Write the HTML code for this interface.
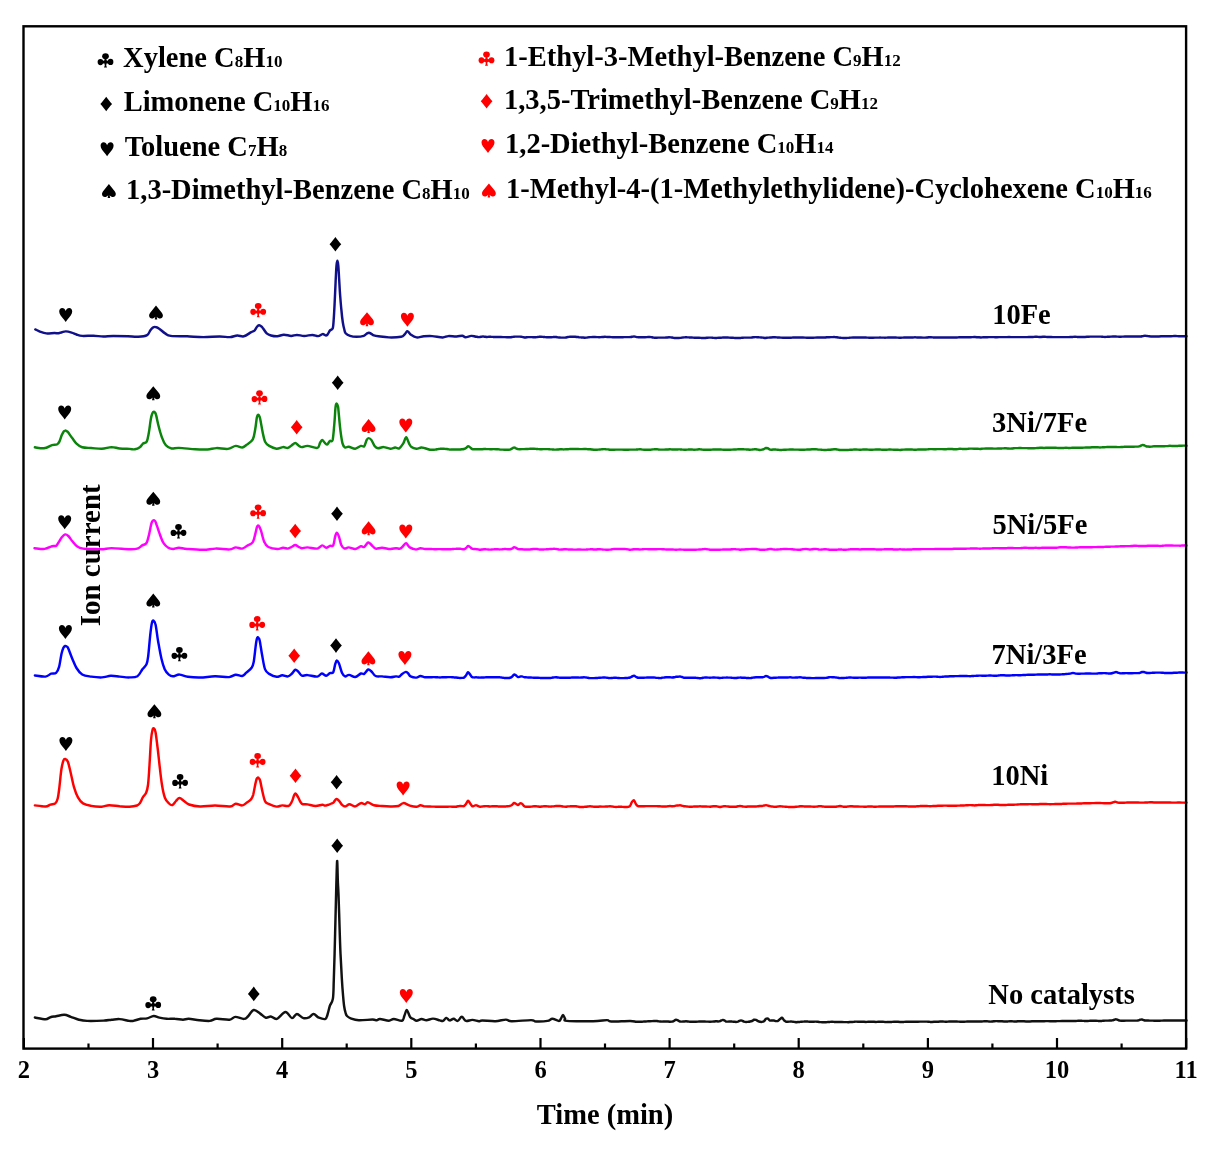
<!DOCTYPE html><html><head><meta charset="utf-8"><style>html,body{margin:0;padding:0;background:#fff;}svg{display:block;}text{font-family:"Liberation Serif","Times New Roman",serif;font-weight:bold;fill:#000;}</style></head><body>
<svg width="1226" height="1150" viewBox="0 0 1226 1150">
<rect x="0" y="0" width="1226" height="1150" fill="#fff"/>
<text transform="translate(99.9,555.3) rotate(-90)" text-anchor="middle" font-size="29">Ion current</text>
<g transform="translate(105.5,60.4) scale(1.000)" fill="#000"><ellipse cx="0" cy="-4.25" rx="3.35" ry="2.95"/><ellipse cx="-5.05" cy="1.65" rx="2.85" ry="3.1"/><ellipse cx="5.05" cy="1.55" rx="2.85" ry="3.1"/><path d="M-0.9,-2 L0.9,-2 L1.2,0.2 L3.2,0.5 L3.2,3.0 L1.0,3.2 L0.75,5.3 L1.5,7.15 L-1.5,7.15 L-0.75,5.3 L-1.0,3.2 L-3.2,3.0 L-3.2,0.5 L-1.2,0.2 Z"/></g>
<text x="123.1" y="67.4" font-size="28.5">Xylene C<tspan font-size="17">8</tspan>H<tspan font-size="17">10</tspan></text>
<path transform="translate(106.2,104.0) scale(1.000)" fill="#000" d="M0,-7.3 C1.6,-5 3.7,-2.4 5.85,0 C3.7,2.4 1.6,5 0,7.3 C-1.6,5 -3.7,2.4 -5.85,0 C-3.7,-2.4 -1.6,-5 0,-7.3 Z"/>
<text x="123.7" y="111.1" font-size="28.5">Limonene C<tspan font-size="17">10</tspan>H<tspan font-size="17">16</tspan></text>
<path transform="translate(107.1,149.2) scale(1.000)" fill="#000" d="M0,-4.0 C-0.6,-6 -1.9,-7 -3.5,-7 C-5.3,-7 -6.5,-5.6 -6.5,-3.5 C-6.5,-0.9 -4.2,1.6 -1.6,4.8 L0,7 L1.6,4.8 C4.2,1.6 6.5,-0.9 6.5,-3.5 C6.5,-5.6 5.3,-7 3.5,-7 C1.9,-7 0.6,-6 0,-4.0 Z"/>
<text x="124.7" y="156.1" font-size="28.5">Toluene C<tspan font-size="17">7</tspan>H<tspan font-size="17">8</tspan></text>
<path transform="translate(108.9,191.0) scale(1.000)" fill="#000" d="M0,-7 L5.2,-0.6 C6.4,0.9 6.9,1.9 6.9,3.1 C6.9,5 5.6,6.1 4.1,6.1 C2.8,6.1 1.6,5.4 0.7,4.3 L1.3,7 L-1.3,7 L-0.7,4.3 C-1.6,5.4 -2.8,6.1 -4.1,6.1 C-5.6,6.1 -6.9,5 -6.9,3.1 C-6.9,1.9 -6.4,0.9 -5.2,-0.6 Z"/>
<text x="126.0" y="198.7" font-size="28.5">1,3-Dimethyl-Benzene C<tspan font-size="17">8</tspan>H<tspan font-size="17">10</tspan></text>
<g transform="translate(486.5,58.7) scale(1.000)" fill="#ff0000"><ellipse cx="0" cy="-4.25" rx="3.35" ry="2.95"/><ellipse cx="-5.05" cy="1.65" rx="2.85" ry="3.1"/><ellipse cx="5.05" cy="1.55" rx="2.85" ry="3.1"/><path d="M-0.9,-2 L0.9,-2 L1.2,0.2 L3.2,0.5 L3.2,3.0 L1.0,3.2 L0.75,5.3 L1.5,7.15 L-1.5,7.15 L-0.75,5.3 L-1.0,3.2 L-3.2,3.0 L-3.2,0.5 L-1.2,0.2 Z"/></g>
<text x="504.0" y="65.8" font-size="28.5">1-Ethyl-3-Methyl-Benzene C<tspan font-size="17">9</tspan>H<tspan font-size="17">12</tspan></text>
<path transform="translate(486.6,101.2) scale(1.000)" fill="#ff0000" d="M0,-7.3 C1.6,-5 3.7,-2.4 5.85,0 C3.7,2.4 1.6,5 0,7.3 C-1.6,5 -3.7,2.4 -5.85,0 C-3.7,-2.4 -1.6,-5 0,-7.3 Z"/>
<text x="503.9" y="108.5" font-size="28.5">1,3,5-Trimethyl-Benzene C<tspan font-size="17">9</tspan>H<tspan font-size="17">12</tspan></text>
<path transform="translate(488.0,146.0) scale(1.000)" fill="#ff0000" d="M0,-4.0 C-0.6,-6 -1.9,-7 -3.5,-7 C-5.3,-7 -6.5,-5.6 -6.5,-3.5 C-6.5,-0.9 -4.2,1.6 -1.6,4.8 L0,7 L1.6,4.8 C4.2,1.6 6.5,-0.9 6.5,-3.5 C6.5,-5.6 5.3,-7 3.5,-7 C1.9,-7 0.6,-6 0,-4.0 Z"/>
<text x="505.0" y="152.8" font-size="28.5">1,2-Diethyl-Benzene C<tspan font-size="17">10</tspan>H<tspan font-size="17">14</tspan></text>
<path transform="translate(488.9,190.4) scale(1.000)" fill="#ff0000" d="M0,-7 L5.2,-0.6 C6.4,0.9 6.9,1.9 6.9,3.1 C6.9,5 5.6,6.1 4.1,6.1 C2.8,6.1 1.6,5.4 0.7,4.3 L1.3,7 L-1.3,7 L-0.7,4.3 C-1.6,5.4 -2.8,6.1 -4.1,6.1 C-5.6,6.1 -6.9,5 -6.9,3.1 C-6.9,1.9 -6.4,0.9 -5.2,-0.6 Z"/>
<text x="506.0" y="197.6" font-size="28.5">1-Methyl-4-(1-Methylethylidene)-Cyclohexene C<tspan font-size="17">10</tspan>H<tspan font-size="17">16</tspan></text>
<text x="992.2" y="324.4" font-size="28.5">10Fe</text>
<text x="992.1" y="431.9" font-size="28.5">3Ni/7Fe</text>
<text x="992.4" y="533.7" font-size="28.5">5Ni/5Fe</text>
<text x="991.6" y="664.1" font-size="28.5">7Ni/3Fe</text>
<text x="991.2" y="785.0" font-size="28.5">10Ni</text>
<text x="988.3" y="1003.7" font-size="28.5">No catalysts</text>
<path transform="translate(65.7,314.9) scale(1.000)" fill="#000" d="M0,-4.0 C-0.6,-6 -1.9,-7 -3.5,-7 C-5.3,-7 -6.5,-5.6 -6.5,-3.5 C-6.5,-0.9 -4.2,1.6 -1.6,4.8 L0,7 L1.6,4.8 C4.2,1.6 6.5,-0.9 6.5,-3.5 C6.5,-5.6 5.3,-7 3.5,-7 C1.9,-7 0.6,-6 0,-4.0 Z"/>
<path transform="translate(156.0,312.5) scale(1.000)" fill="#000" d="M0,-7 L5.2,-0.6 C6.4,0.9 6.9,1.9 6.9,3.1 C6.9,5 5.6,6.1 4.1,6.1 C2.8,6.1 1.6,5.4 0.7,4.3 L1.3,7 L-1.3,7 L-0.7,4.3 C-1.6,5.4 -2.8,6.1 -4.1,6.1 C-5.6,6.1 -6.9,5 -6.9,3.1 C-6.9,1.9 -6.4,0.9 -5.2,-0.6 Z"/>
<g transform="translate(258.2,310.2) scale(1.000)" fill="#ff0000"><ellipse cx="0" cy="-4.25" rx="3.35" ry="2.95"/><ellipse cx="-5.05" cy="1.65" rx="2.85" ry="3.1"/><ellipse cx="5.05" cy="1.55" rx="2.85" ry="3.1"/><path d="M-0.9,-2 L0.9,-2 L1.2,0.2 L3.2,0.5 L3.2,3.0 L1.0,3.2 L0.75,5.3 L1.5,7.15 L-1.5,7.15 L-0.75,5.3 L-1.0,3.2 L-3.2,3.0 L-3.2,0.5 L-1.2,0.2 Z"/></g>
<path transform="translate(335.4,244.2) scale(1.000)" fill="#000" d="M0,-7.3 C1.6,-5 3.7,-2.4 5.85,0 C3.7,2.4 1.6,5 0,7.3 C-1.6,5 -3.7,2.4 -5.85,0 C-3.7,-2.4 -1.6,-5 0,-7.3 Z"/>
<path transform="translate(367.0,319.2) scale(1.000)" fill="#ff0000" d="M0,-7 L5.2,-0.6 C6.4,0.9 6.9,1.9 6.9,3.1 C6.9,5 5.6,6.1 4.1,6.1 C2.8,6.1 1.6,5.4 0.7,4.3 L1.3,7 L-1.3,7 L-0.7,4.3 C-1.6,5.4 -2.8,6.1 -4.1,6.1 C-5.6,6.1 -6.9,5 -6.9,3.1 C-6.9,1.9 -6.4,0.9 -5.2,-0.6 Z"/>
<path transform="translate(407.4,319.8) scale(1.000)" fill="#ff0000" d="M0,-4.0 C-0.6,-6 -1.9,-7 -3.5,-7 C-5.3,-7 -6.5,-5.6 -6.5,-3.5 C-6.5,-0.9 -4.2,1.6 -1.6,4.8 L0,7 L1.6,4.8 C4.2,1.6 6.5,-0.9 6.5,-3.5 C6.5,-5.6 5.3,-7 3.5,-7 C1.9,-7 0.6,-6 0,-4.0 Z"/>
<path transform="translate(64.7,412.4) scale(1.000)" fill="#000" d="M0,-4.0 C-0.6,-6 -1.9,-7 -3.5,-7 C-5.3,-7 -6.5,-5.6 -6.5,-3.5 C-6.5,-0.9 -4.2,1.6 -1.6,4.8 L0,7 L1.6,4.8 C4.2,1.6 6.5,-0.9 6.5,-3.5 C6.5,-5.6 5.3,-7 3.5,-7 C1.9,-7 0.6,-6 0,-4.0 Z"/>
<path transform="translate(153.3,393.2) scale(1.000)" fill="#000" d="M0,-7 L5.2,-0.6 C6.4,0.9 6.9,1.9 6.9,3.1 C6.9,5 5.6,6.1 4.1,6.1 C2.8,6.1 1.6,5.4 0.7,4.3 L1.3,7 L-1.3,7 L-0.7,4.3 C-1.6,5.4 -2.8,6.1 -4.1,6.1 C-5.6,6.1 -6.9,5 -6.9,3.1 C-6.9,1.9 -6.4,0.9 -5.2,-0.6 Z"/>
<g transform="translate(259.5,397.4) scale(1.000)" fill="#ff0000"><ellipse cx="0" cy="-4.25" rx="3.35" ry="2.95"/><ellipse cx="-5.05" cy="1.65" rx="2.85" ry="3.1"/><ellipse cx="5.05" cy="1.55" rx="2.85" ry="3.1"/><path d="M-0.9,-2 L0.9,-2 L1.2,0.2 L3.2,0.5 L3.2,3.0 L1.0,3.2 L0.75,5.3 L1.5,7.15 L-1.5,7.15 L-0.75,5.3 L-1.0,3.2 L-3.2,3.0 L-3.2,0.5 L-1.2,0.2 Z"/></g>
<path transform="translate(296.7,427.3) scale(1.000)" fill="#ff0000" d="M0,-7.3 C1.6,-5 3.7,-2.4 5.85,0 C3.7,2.4 1.6,5 0,7.3 C-1.6,5 -3.7,2.4 -5.85,0 C-3.7,-2.4 -1.6,-5 0,-7.3 Z"/>
<path transform="translate(337.7,382.7) scale(1.000)" fill="#000" d="M0,-7.3 C1.6,-5 3.7,-2.4 5.85,0 C3.7,2.4 1.6,5 0,7.3 C-1.6,5 -3.7,2.4 -5.85,0 C-3.7,-2.4 -1.6,-5 0,-7.3 Z"/>
<path transform="translate(368.6,426.0) scale(1.000)" fill="#ff0000" d="M0,-7 L5.2,-0.6 C6.4,0.9 6.9,1.9 6.9,3.1 C6.9,5 5.6,6.1 4.1,6.1 C2.8,6.1 1.6,5.4 0.7,4.3 L1.3,7 L-1.3,7 L-0.7,4.3 C-1.6,5.4 -2.8,6.1 -4.1,6.1 C-5.6,6.1 -6.9,5 -6.9,3.1 C-6.9,1.9 -6.4,0.9 -5.2,-0.6 Z"/>
<path transform="translate(405.8,425.6) scale(1.000)" fill="#ff0000" d="M0,-4.0 C-0.6,-6 -1.9,-7 -3.5,-7 C-5.3,-7 -6.5,-5.6 -6.5,-3.5 C-6.5,-0.9 -4.2,1.6 -1.6,4.8 L0,7 L1.6,4.8 C4.2,1.6 6.5,-0.9 6.5,-3.5 C6.5,-5.6 5.3,-7 3.5,-7 C1.9,-7 0.6,-6 0,-4.0 Z"/>
<path transform="translate(64.7,522.2) scale(1.000)" fill="#000" d="M0,-4.0 C-0.6,-6 -1.9,-7 -3.5,-7 C-5.3,-7 -6.5,-5.6 -6.5,-3.5 C-6.5,-0.9 -4.2,1.6 -1.6,4.8 L0,7 L1.6,4.8 C4.2,1.6 6.5,-0.9 6.5,-3.5 C6.5,-5.6 5.3,-7 3.5,-7 C1.9,-7 0.6,-6 0,-4.0 Z"/>
<path transform="translate(153.3,498.7) scale(1.000)" fill="#000" d="M0,-7 L5.2,-0.6 C6.4,0.9 6.9,1.9 6.9,3.1 C6.9,5 5.6,6.1 4.1,6.1 C2.8,6.1 1.6,5.4 0.7,4.3 L1.3,7 L-1.3,7 L-0.7,4.3 C-1.6,5.4 -2.8,6.1 -4.1,6.1 C-5.6,6.1 -6.9,5 -6.9,3.1 C-6.9,1.9 -6.4,0.9 -5.2,-0.6 Z"/>
<g transform="translate(178.5,531.3) scale(1.000)" fill="#000"><ellipse cx="0" cy="-4.25" rx="3.35" ry="2.95"/><ellipse cx="-5.05" cy="1.65" rx="2.85" ry="3.1"/><ellipse cx="5.05" cy="1.55" rx="2.85" ry="3.1"/><path d="M-0.9,-2 L0.9,-2 L1.2,0.2 L3.2,0.5 L3.2,3.0 L1.0,3.2 L0.75,5.3 L1.5,7.15 L-1.5,7.15 L-0.75,5.3 L-1.0,3.2 L-3.2,3.0 L-3.2,0.5 L-1.2,0.2 Z"/></g>
<g transform="translate(258.1,511.6) scale(1.000)" fill="#ff0000"><ellipse cx="0" cy="-4.25" rx="3.35" ry="2.95"/><ellipse cx="-5.05" cy="1.65" rx="2.85" ry="3.1"/><ellipse cx="5.05" cy="1.55" rx="2.85" ry="3.1"/><path d="M-0.9,-2 L0.9,-2 L1.2,0.2 L3.2,0.5 L3.2,3.0 L1.0,3.2 L0.75,5.3 L1.5,7.15 L-1.5,7.15 L-0.75,5.3 L-1.0,3.2 L-3.2,3.0 L-3.2,0.5 L-1.2,0.2 Z"/></g>
<path transform="translate(295.2,531.0) scale(1.000)" fill="#ff0000" d="M0,-7.3 C1.6,-5 3.7,-2.4 5.85,0 C3.7,2.4 1.6,5 0,7.3 C-1.6,5 -3.7,2.4 -5.85,0 C-3.7,-2.4 -1.6,-5 0,-7.3 Z"/>
<path transform="translate(337.0,513.8) scale(1.000)" fill="#000" d="M0,-7.3 C1.6,-5 3.7,-2.4 5.85,0 C3.7,2.4 1.6,5 0,7.3 C-1.6,5 -3.7,2.4 -5.85,0 C-3.7,-2.4 -1.6,-5 0,-7.3 Z"/>
<path transform="translate(368.6,528.3) scale(1.000)" fill="#ff0000" d="M0,-7 L5.2,-0.6 C6.4,0.9 6.9,1.9 6.9,3.1 C6.9,5 5.6,6.1 4.1,6.1 C2.8,6.1 1.6,5.4 0.7,4.3 L1.3,7 L-1.3,7 L-0.7,4.3 C-1.6,5.4 -2.8,6.1 -4.1,6.1 C-5.6,6.1 -6.9,5 -6.9,3.1 C-6.9,1.9 -6.4,0.9 -5.2,-0.6 Z"/>
<path transform="translate(405.8,531.5) scale(1.000)" fill="#ff0000" d="M0,-4.0 C-0.6,-6 -1.9,-7 -3.5,-7 C-5.3,-7 -6.5,-5.6 -6.5,-3.5 C-6.5,-0.9 -4.2,1.6 -1.6,4.8 L0,7 L1.6,4.8 C4.2,1.6 6.5,-0.9 6.5,-3.5 C6.5,-5.6 5.3,-7 3.5,-7 C1.9,-7 0.6,-6 0,-4.0 Z"/>
<path transform="translate(65.4,632.0) scale(1.000)" fill="#000" d="M0,-4.0 C-0.6,-6 -1.9,-7 -3.5,-7 C-5.3,-7 -6.5,-5.6 -6.5,-3.5 C-6.5,-0.9 -4.2,1.6 -1.6,4.8 L0,7 L1.6,4.8 C4.2,1.6 6.5,-0.9 6.5,-3.5 C6.5,-5.6 5.3,-7 3.5,-7 C1.9,-7 0.6,-6 0,-4.0 Z"/>
<path transform="translate(153.3,600.5) scale(1.000)" fill="#000" d="M0,-7 L5.2,-0.6 C6.4,0.9 6.9,1.9 6.9,3.1 C6.9,5 5.6,6.1 4.1,6.1 C2.8,6.1 1.6,5.4 0.7,4.3 L1.3,7 L-1.3,7 L-0.7,4.3 C-1.6,5.4 -2.8,6.1 -4.1,6.1 C-5.6,6.1 -6.9,5 -6.9,3.1 C-6.9,1.9 -6.4,0.9 -5.2,-0.6 Z"/>
<g transform="translate(179.4,654.2) scale(1.000)" fill="#000"><ellipse cx="0" cy="-4.25" rx="3.35" ry="2.95"/><ellipse cx="-5.05" cy="1.65" rx="2.85" ry="3.1"/><ellipse cx="5.05" cy="1.55" rx="2.85" ry="3.1"/><path d="M-0.9,-2 L0.9,-2 L1.2,0.2 L3.2,0.5 L3.2,3.0 L1.0,3.2 L0.75,5.3 L1.5,7.15 L-1.5,7.15 L-0.75,5.3 L-1.0,3.2 L-3.2,3.0 L-3.2,0.5 L-1.2,0.2 Z"/></g>
<g transform="translate(257.2,623.3) scale(1.000)" fill="#ff0000"><ellipse cx="0" cy="-4.25" rx="3.35" ry="2.95"/><ellipse cx="-5.05" cy="1.65" rx="2.85" ry="3.1"/><ellipse cx="5.05" cy="1.55" rx="2.85" ry="3.1"/><path d="M-0.9,-2 L0.9,-2 L1.2,0.2 L3.2,0.5 L3.2,3.0 L1.0,3.2 L0.75,5.3 L1.5,7.15 L-1.5,7.15 L-0.75,5.3 L-1.0,3.2 L-3.2,3.0 L-3.2,0.5 L-1.2,0.2 Z"/></g>
<path transform="translate(294.2,655.7) scale(1.000)" fill="#ff0000" d="M0,-7.3 C1.6,-5 3.7,-2.4 5.85,0 C3.7,2.4 1.6,5 0,7.3 C-1.6,5 -3.7,2.4 -5.85,0 C-3.7,-2.4 -1.6,-5 0,-7.3 Z"/>
<path transform="translate(336.0,645.6) scale(1.000)" fill="#000" d="M0,-7.3 C1.6,-5 3.7,-2.4 5.85,0 C3.7,2.4 1.6,5 0,7.3 C-1.6,5 -3.7,2.4 -5.85,0 C-3.7,-2.4 -1.6,-5 0,-7.3 Z"/>
<path transform="translate(368.4,658.3) scale(1.000)" fill="#ff0000" d="M0,-7 L5.2,-0.6 C6.4,0.9 6.9,1.9 6.9,3.1 C6.9,5 5.6,6.1 4.1,6.1 C2.8,6.1 1.6,5.4 0.7,4.3 L1.3,7 L-1.3,7 L-0.7,4.3 C-1.6,5.4 -2.8,6.1 -4.1,6.1 C-5.6,6.1 -6.9,5 -6.9,3.1 C-6.9,1.9 -6.4,0.9 -5.2,-0.6 Z"/>
<path transform="translate(404.9,658.0) scale(1.000)" fill="#ff0000" d="M0,-4.0 C-0.6,-6 -1.9,-7 -3.5,-7 C-5.3,-7 -6.5,-5.6 -6.5,-3.5 C-6.5,-0.9 -4.2,1.6 -1.6,4.8 L0,7 L1.6,4.8 C4.2,1.6 6.5,-0.9 6.5,-3.5 C6.5,-5.6 5.3,-7 3.5,-7 C1.9,-7 0.6,-6 0,-4.0 Z"/>
<path transform="translate(65.9,744.0) scale(1.000)" fill="#000" d="M0,-4.0 C-0.6,-6 -1.9,-7 -3.5,-7 C-5.3,-7 -6.5,-5.6 -6.5,-3.5 C-6.5,-0.9 -4.2,1.6 -1.6,4.8 L0,7 L1.6,4.8 C4.2,1.6 6.5,-0.9 6.5,-3.5 C6.5,-5.6 5.3,-7 3.5,-7 C1.9,-7 0.6,-6 0,-4.0 Z"/>
<path transform="translate(154.4,711.2) scale(1.000)" fill="#000" d="M0,-7 L5.2,-0.6 C6.4,0.9 6.9,1.9 6.9,3.1 C6.9,5 5.6,6.1 4.1,6.1 C2.8,6.1 1.6,5.4 0.7,4.3 L1.3,7 L-1.3,7 L-0.7,4.3 C-1.6,5.4 -2.8,6.1 -4.1,6.1 C-5.6,6.1 -6.9,5 -6.9,3.1 C-6.9,1.9 -6.4,0.9 -5.2,-0.6 Z"/>
<g transform="translate(180.1,781.3) scale(1.000)" fill="#000"><ellipse cx="0" cy="-4.25" rx="3.35" ry="2.95"/><ellipse cx="-5.05" cy="1.65" rx="2.85" ry="3.1"/><ellipse cx="5.05" cy="1.55" rx="2.85" ry="3.1"/><path d="M-0.9,-2 L0.9,-2 L1.2,0.2 L3.2,0.5 L3.2,3.0 L1.0,3.2 L0.75,5.3 L1.5,7.15 L-1.5,7.15 L-0.75,5.3 L-1.0,3.2 L-3.2,3.0 L-3.2,0.5 L-1.2,0.2 Z"/></g>
<g transform="translate(257.6,760.3) scale(1.000)" fill="#ff0000"><ellipse cx="0" cy="-4.25" rx="3.35" ry="2.95"/><ellipse cx="-5.05" cy="1.65" rx="2.85" ry="3.1"/><ellipse cx="5.05" cy="1.55" rx="2.85" ry="3.1"/><path d="M-0.9,-2 L0.9,-2 L1.2,0.2 L3.2,0.5 L3.2,3.0 L1.0,3.2 L0.75,5.3 L1.5,7.15 L-1.5,7.15 L-0.75,5.3 L-1.0,3.2 L-3.2,3.0 L-3.2,0.5 L-1.2,0.2 Z"/></g>
<path transform="translate(295.5,775.8) scale(1.000)" fill="#ff0000" d="M0,-7.3 C1.6,-5 3.7,-2.4 5.85,0 C3.7,2.4 1.6,5 0,7.3 C-1.6,5 -3.7,2.4 -5.85,0 C-3.7,-2.4 -1.6,-5 0,-7.3 Z"/>
<path transform="translate(336.6,782.3) scale(1.000)" fill="#000" d="M0,-7.3 C1.6,-5 3.7,-2.4 5.85,0 C3.7,2.4 1.6,5 0,7.3 C-1.6,5 -3.7,2.4 -5.85,0 C-3.7,-2.4 -1.6,-5 0,-7.3 Z"/>
<path transform="translate(403.1,788.5) scale(1.000)" fill="#ff0000" d="M0,-4.0 C-0.6,-6 -1.9,-7 -3.5,-7 C-5.3,-7 -6.5,-5.6 -6.5,-3.5 C-6.5,-0.9 -4.2,1.6 -1.6,4.8 L0,7 L1.6,4.8 C4.2,1.6 6.5,-0.9 6.5,-3.5 C6.5,-5.6 5.3,-7 3.5,-7 C1.9,-7 0.6,-6 0,-4.0 Z"/>
<g transform="translate(153.2,1003.4) scale(1.000)" fill="#000"><ellipse cx="0" cy="-4.25" rx="3.35" ry="2.95"/><ellipse cx="-5.05" cy="1.65" rx="2.85" ry="3.1"/><ellipse cx="5.05" cy="1.55" rx="2.85" ry="3.1"/><path d="M-0.9,-2 L0.9,-2 L1.2,0.2 L3.2,0.5 L3.2,3.0 L1.0,3.2 L0.75,5.3 L1.5,7.15 L-1.5,7.15 L-0.75,5.3 L-1.0,3.2 L-3.2,3.0 L-3.2,0.5 L-1.2,0.2 Z"/></g>
<path transform="translate(253.8,993.9) scale(1.000)" fill="#000" d="M0,-7.3 C1.6,-5 3.7,-2.4 5.85,0 C3.7,2.4 1.6,5 0,7.3 C-1.6,5 -3.7,2.4 -5.85,0 C-3.7,-2.4 -1.6,-5 0,-7.3 Z"/>
<path transform="translate(337.2,845.8) scale(1.000)" fill="#000" d="M0,-7.3 C1.6,-5 3.7,-2.4 5.85,0 C3.7,2.4 1.6,5 0,7.3 C-1.6,5 -3.7,2.4 -5.85,0 C-3.7,-2.4 -1.6,-5 0,-7.3 Z"/>
<path transform="translate(406.3,996.0) scale(1.000)" fill="#ff0000" d="M0,-4.0 C-0.6,-6 -1.9,-7 -3.5,-7 C-5.3,-7 -6.5,-5.6 -6.5,-3.5 C-6.5,-0.9 -4.2,1.6 -1.6,4.8 L0,7 L1.6,4.8 C4.2,1.6 6.5,-0.9 6.5,-3.5 C6.5,-5.6 5.3,-7 3.5,-7 C1.9,-7 0.6,-6 0,-4.0 Z"/>
<path fill="none" stroke="#10108a" stroke-width="2.45" stroke-linejoin="round" stroke-linecap="round" d="M35.3,329.4C36.2,329.8 38.7,331.1 40.5,331.8C42.3,332.5 44.0,333.2 46.3,333.4C48.6,333.6 52.5,333.0 54.5,333.0C56.5,333.0 57.2,333.4 58.5,333.3C59.8,333.2 60.8,332.5 62.0,332.2C63.2,331.9 64.3,331.3 65.9,331.4C67.5,331.5 69.8,332.1 71.6,332.6C73.4,333.1 74.7,333.9 76.5,334.5C78.3,335.1 79.4,335.7 82.2,335.9C85.0,336.1 90.1,335.6 93.6,335.7C97.1,335.8 100.1,336.5 103.4,336.5C106.7,336.5 109.1,335.9 113.2,335.9C117.3,335.9 123.7,336.1 127.9,336.3C132.1,336.5 135.0,337.0 138.2,336.8C141.4,336.6 145.1,336.2 147.1,335.1C149.1,334.0 149.4,331.5 150.4,330.2C151.4,328.9 152.2,328.1 153.0,327.5C153.8,326.9 154.5,326.8 155.3,326.9C156.1,326.9 157.0,327.4 157.8,327.8C158.6,328.2 159.0,328.5 160.2,329.4C161.4,330.3 163.3,332.3 165.1,333.4C166.9,334.5 167.1,335.4 170.8,335.9C174.5,336.4 181.7,336.1 187.1,336.3C192.5,336.5 198.0,337.1 203.4,337.1C208.8,337.1 215.3,336.5 219.7,336.5C224.1,336.5 227.1,337.3 230.0,337.1C232.9,336.9 235.0,335.6 237.3,335.5C239.6,335.4 241.6,336.9 243.9,336.3C246.2,335.8 249.4,333.1 251.2,332.2C253.0,331.2 253.5,331.5 254.5,330.6C255.5,329.7 256.2,327.7 257.0,326.8C257.8,325.9 258.3,325.4 259.0,325.3C259.7,325.2 260.4,325.8 261.0,326.2C261.6,326.6 261.7,326.5 262.6,327.7C263.6,328.9 265.3,332.1 266.7,333.4C268.1,334.7 269.2,335.0 271.0,335.5C272.8,336.0 275.2,336.4 277.3,336.3C279.4,336.2 281.5,334.8 283.8,334.7C286.1,334.6 289.0,335.9 291.2,335.9C293.4,335.9 294.7,334.9 296.9,334.9C299.1,334.9 301.6,335.9 304.2,335.9C306.8,335.9 310.1,334.9 312.4,334.9C314.7,334.9 316.4,336.2 318.1,336.1C319.8,336.0 321.4,334.2 322.6,334.1C323.8,334.0 324.7,335.3 325.5,335.4C326.3,335.5 326.8,335.4 327.5,334.6C328.2,333.8 329.1,331.5 330.0,330.4C330.9,329.3 332.2,330.2 332.8,328.1C333.4,326.0 333.5,322.0 333.8,318.0C334.1,314.0 334.3,309.9 334.6,303.9C334.9,297.9 335.3,288.4 335.6,282.0C335.9,275.6 336.2,269.0 336.5,265.5C336.8,262.0 337.1,260.8 337.4,260.8C337.7,260.8 338.0,262.3 338.3,265.5C338.6,268.7 338.9,275.1 339.2,280.0C339.5,284.9 339.7,289.8 340.1,294.8C340.5,299.8 340.9,305.4 341.4,310.0C341.8,314.6 342.3,319.0 342.8,322.2C343.3,325.4 343.7,327.2 344.2,329.0C344.7,330.8 344.6,332.1 345.6,333.2C346.6,334.3 348.3,335.3 350.1,335.9C351.9,336.5 354.2,336.8 356.5,336.8C358.8,336.8 362.1,336.4 363.8,335.9C365.5,335.4 365.6,334.3 366.5,333.8C367.4,333.3 368.1,332.7 368.9,332.7C369.7,332.7 370.6,333.4 371.4,333.9C372.2,334.3 372.7,335.0 373.9,335.4C375.1,335.8 375.9,336.0 378.4,336.3C380.9,336.6 385.1,337.3 388.9,337.4C392.7,337.5 398.5,337.2 401.1,336.7C403.7,336.2 403.5,335.4 404.5,334.5C405.5,333.6 406.4,331.5 407.2,331.2C408.0,330.9 408.6,332.2 409.2,332.8C409.8,333.4 409.7,333.9 410.9,334.7C412.1,335.5 414.4,337.1 416.6,337.4C418.8,337.7 421.3,336.5 423.9,336.3C426.5,336.1 429.0,335.9 432.1,336.1C435.2,336.3 440.0,337.4 442.7,337.4C445.4,337.4 446.1,336.2 448.4,336.1C450.7,336.0 454.3,336.6 456.6,336.5C458.9,336.4 460.8,335.6 462.3,335.7C463.8,335.8 464.0,337.2 465.5,337.2C467.0,337.2 469.6,336.0 471.2,335.9C472.8,335.8 474.0,336.3 475.0,336.5C476.0,336.7 476.3,336.7 477.0,336.8C477.7,336.9 478.3,337.1 479.0,337.1C479.7,337.0 480.3,336.9 481.0,336.8C481.7,336.7 482.3,336.4 483.0,336.4C483.7,336.4 484.3,336.8 485.0,336.8C485.7,336.9 486.3,337.0 487.0,337.0C487.7,337.0 488.3,336.8 489.0,336.8C489.7,336.8 490.3,336.7 491.0,336.8C491.7,336.8 492.3,336.8 493.0,336.9C493.7,336.9 494.3,336.9 495.0,337.0C495.7,337.0 496.3,336.9 497.0,336.9C497.7,336.9 498.3,336.9 499.0,336.9C499.7,336.9 500.3,337.0 501.0,337.0C501.7,337.0 502.3,337.0 503.0,337.1C503.7,337.1 504.3,337.1 505.0,337.1C505.7,337.2 506.3,337.2 507.0,337.2C507.7,337.2 508.3,337.3 509.0,337.3C509.7,337.3 510.3,337.2 511.0,337.2C511.7,337.1 512.3,337.0 513.0,336.9C513.7,336.8 514.3,336.7 515.0,336.6C515.7,336.6 516.3,336.6 517.0,336.6C517.7,336.6 518.3,336.6 519.0,336.6C519.7,336.6 520.3,336.7 521.0,336.7C521.7,336.8 522.3,337.0 523.0,337.1C523.7,337.2 524.3,337.4 525.0,337.4C525.7,337.4 526.3,337.3 527.0,337.2C527.7,337.2 528.3,337.1 529.0,337.1C529.7,337.1 530.3,337.1 531.0,337.1C531.7,337.1 532.3,337.2 533.0,337.2C533.7,337.3 534.3,337.4 535.0,337.3C535.7,337.3 536.3,337.2 537.0,337.1C537.7,337.0 538.3,336.8 539.0,336.8C539.7,336.7 540.3,336.7 541.0,336.7C541.7,336.7 542.3,336.8 543.0,336.9C543.7,336.9 544.3,337.0 545.0,337.1C545.7,337.1 546.3,337.1 547.0,337.2C547.7,337.2 548.3,337.3 549.0,337.3C549.7,337.3 550.3,337.3 551.0,337.3C551.7,337.2 552.3,337.1 553.0,337.1C553.7,337.0 554.3,336.9 555.0,336.9C555.7,336.9 556.3,337.1 557.0,337.2C557.7,337.3 558.3,337.4 559.0,337.5C559.7,337.5 560.3,337.6 561.0,337.6C561.7,337.6 562.3,337.6 563.0,337.6C563.7,337.6 564.3,337.6 565.0,337.6C565.7,337.5 566.3,337.4 567.0,337.2C567.7,337.1 568.3,337.0 569.0,336.9C569.7,336.8 570.3,336.8 571.0,336.7C571.7,336.7 572.3,336.7 573.0,336.7C573.7,336.7 574.3,336.7 575.0,336.7C575.7,336.8 576.3,336.9 577.0,336.9C577.7,337.0 578.3,337.1 579.0,337.2C579.7,337.2 580.3,337.3 581.0,337.4C581.7,337.4 582.3,337.5 583.0,337.5C583.7,337.6 584.3,337.7 585.0,337.7C585.7,337.7 586.3,337.5 587.0,337.5C587.7,337.4 588.3,337.3 589.0,337.2C589.7,337.2 590.3,337.1 591.0,337.1C591.7,337.1 592.3,337.1 593.0,337.0C593.7,337.0 594.3,337.0 595.0,337.0C595.7,337.0 596.3,337.0 597.0,337.1C597.7,337.1 598.3,337.2 599.0,337.2C599.7,337.2 600.3,337.2 601.0,337.1C601.7,337.1 602.3,337.0 603.0,337.0C603.7,336.9 604.3,336.8 605.0,336.8C605.7,336.8 606.3,336.9 607.0,336.9C607.7,336.9 608.3,337.0 609.0,337.0C609.7,337.0 610.3,337.1 611.0,337.1C611.7,337.1 612.3,337.1 613.0,337.2C613.7,337.2 614.3,337.3 615.0,337.3C615.7,337.3 616.3,337.3 617.0,337.3C617.7,337.3 618.3,337.3 619.0,337.3C619.7,337.3 620.3,337.3 621.0,337.3C621.7,337.3 622.3,337.2 623.0,337.2C623.7,337.2 624.3,337.1 625.0,337.1C625.7,337.1 626.3,337.1 627.0,337.1C627.7,337.1 628.3,337.1 629.0,337.1C629.7,337.1 630.3,337.1 631.0,337.0C631.7,336.9 632.3,336.7 633.0,336.6C633.7,336.5 634.3,336.5 635.0,336.6C635.7,336.7 636.3,337.0 637.0,337.1C637.7,337.2 638.3,337.3 639.0,337.3C639.7,337.4 640.3,337.3 641.0,337.3C641.7,337.3 642.3,337.3 643.0,337.3C643.7,337.3 644.3,337.2 645.0,337.2C645.7,337.2 646.3,337.2 647.0,337.1C647.7,337.1 648.3,337.0 649.0,337.0C649.7,337.0 650.3,337.1 651.0,337.1C651.7,337.2 652.3,337.4 653.0,337.5C653.7,337.6 654.3,337.8 655.0,337.8C655.7,337.8 656.3,337.7 657.0,337.7C657.7,337.7 658.3,337.6 659.0,337.6C659.7,337.6 660.3,337.6 661.0,337.6C661.7,337.6 662.3,337.6 663.0,337.6C663.7,337.6 664.3,337.7 665.0,337.6C665.7,337.6 666.3,337.5 667.0,337.5C667.7,337.4 668.3,337.3 669.0,337.3C669.7,337.3 670.3,337.3 671.0,337.4C671.7,337.4 672.3,337.6 673.0,337.7C673.7,337.8 674.3,338.0 675.0,338.0C675.7,338.1 676.3,338.0 677.0,338.0C677.7,338.0 678.3,338.0 679.0,337.9C679.7,337.9 680.3,337.8 681.0,337.8C681.7,337.7 682.3,337.6 683.0,337.5C683.7,337.4 684.3,337.2 685.0,337.2C685.7,337.1 686.3,337.2 687.0,337.3C687.7,337.3 688.3,337.3 689.0,337.4C689.7,337.4 690.3,337.4 691.0,337.5C691.7,337.5 692.3,337.6 693.0,337.6C693.7,337.7 694.3,337.8 695.0,337.8C695.7,337.8 696.3,337.8 697.0,337.8C697.7,337.8 698.3,337.8 699.0,337.8C699.7,337.8 700.3,337.8 701.0,337.9C701.7,337.9 702.3,337.9 703.0,337.9C703.7,338.0 704.3,338.1 705.0,338.0C705.7,338.0 706.3,337.9 707.0,337.8C707.7,337.8 708.3,337.7 709.0,337.6C709.7,337.6 710.3,337.6 711.0,337.6C711.7,337.6 712.3,337.7 713.0,337.8C713.7,337.8 714.3,337.9 715.0,337.9C715.7,337.9 716.3,337.9 717.0,337.9C717.7,337.8 718.3,337.8 719.0,337.8C719.7,337.8 720.3,337.7 721.0,337.7C721.7,337.6 722.3,337.6 723.0,337.5C723.7,337.5 724.3,337.4 725.0,337.4C725.7,337.4 726.3,337.5 727.0,337.5C727.7,337.5 728.3,337.6 729.0,337.6C729.7,337.7 730.3,337.7 731.0,337.7C731.7,337.8 732.3,337.8 733.0,337.8C733.7,337.9 734.3,337.9 735.0,338.0C735.7,338.0 736.3,338.0 737.0,337.9C737.7,337.9 738.3,337.9 739.0,337.9C739.7,337.9 740.3,337.9 741.0,337.9C741.7,337.8 742.3,337.8 743.0,337.7C743.7,337.7 744.3,337.6 745.0,337.6C745.7,337.6 746.3,337.6 747.0,337.6C747.7,337.6 748.3,337.7 749.0,337.6C749.7,337.6 750.3,337.6 751.0,337.6C751.7,337.5 752.3,337.4 753.0,337.3C753.7,337.3 754.3,337.1 755.0,337.1C755.7,337.1 756.3,337.2 757.0,337.2C757.7,337.2 758.3,337.2 759.0,337.3C759.7,337.3 760.3,337.4 761.0,337.4C761.7,337.5 762.3,337.6 763.0,337.6C763.7,337.7 764.3,337.9 765.0,337.9C765.7,337.9 766.3,337.8 767.0,337.7C767.7,337.7 768.3,337.6 769.0,337.6C769.7,337.5 770.3,337.5 771.0,337.4C771.7,337.4 772.3,337.4 773.0,337.3C773.7,337.3 774.3,337.2 775.0,337.2C775.7,337.2 776.3,337.3 777.0,337.4C777.7,337.4 778.3,337.5 779.0,337.5C779.7,337.6 780.3,337.6 781.0,337.6C781.7,337.7 782.3,337.7 783.0,337.7C783.7,337.7 784.3,337.8 785.0,337.8C785.7,337.8 786.3,337.8 787.0,337.7C787.7,337.7 788.3,337.7 789.0,337.7C789.7,337.7 790.3,337.7 791.0,337.7C791.7,337.6 792.3,337.6 793.0,337.5C793.7,337.5 794.3,337.4 795.0,337.4C795.7,337.4 796.3,337.4 797.0,337.5C797.7,337.5 798.3,337.5 799.0,337.5C799.7,337.5 800.3,337.5 801.0,337.5C801.7,337.5 802.3,337.5 803.0,337.5C803.7,337.5 804.3,337.5 805.0,337.6C805.7,337.6 806.3,337.6 807.0,337.7C807.7,337.7 808.3,337.8 809.0,337.8C809.7,337.8 810.3,337.8 811.0,337.8C811.7,337.8 812.3,337.7 813.0,337.7C813.7,337.6 814.3,337.6 815.0,337.6C815.7,337.5 816.3,337.5 817.0,337.5C817.7,337.5 818.3,337.5 819.0,337.5C819.7,337.4 820.3,337.4 821.0,337.5C821.7,337.5 822.3,337.5 823.0,337.5C823.7,337.5 824.3,337.6 825.0,337.5C825.7,337.5 826.3,337.4 827.0,337.3C827.7,337.3 828.3,337.2 829.0,337.2C829.7,337.1 830.3,337.1 831.0,337.1C831.7,337.1 832.3,337.1 833.0,337.1C833.7,337.1 834.3,337.0 835.0,337.1C835.7,337.1 836.3,337.3 837.0,337.3C837.7,337.4 838.3,337.5 839.0,337.6C839.7,337.7 840.3,337.7 841.0,337.8C841.7,337.8 842.3,337.9 843.0,337.9C843.7,337.9 844.3,338.0 845.0,338.0C845.7,338.0 846.3,337.9 847.0,337.9C847.7,337.8 848.3,337.7 849.0,337.7C849.7,337.6 850.3,337.6 851.0,337.6C851.7,337.5 852.3,337.5 853.0,337.5C853.7,337.5 854.3,337.5 855.0,337.5C855.7,337.5 856.3,337.4 857.0,337.4C857.7,337.4 858.3,337.4 859.0,337.4C859.7,337.4 860.3,337.4 861.0,337.4C861.7,337.4 862.3,337.4 863.0,337.5C863.7,337.5 864.3,337.5 865.0,337.5C865.7,337.5 866.3,337.6 867.0,337.6C867.7,337.6 868.3,337.7 869.0,337.7C869.7,337.7 870.3,337.7 871.0,337.7C871.7,337.7 872.3,337.7 873.0,337.7C873.7,337.7 874.3,337.7 875.0,337.6C875.7,337.6 876.3,337.6 877.0,337.6C877.7,337.6 878.3,337.6 879.0,337.6C879.7,337.5 880.3,337.5 881.0,337.6C881.7,337.6 882.3,337.6 883.0,337.6C883.7,337.6 884.3,337.7 885.0,337.7C885.7,337.7 886.3,337.6 887.0,337.6C887.7,337.5 888.3,337.5 889.0,337.4C889.7,337.4 890.3,337.4 891.0,337.4C891.7,337.4 892.3,337.4 893.0,337.5C893.7,337.5 894.3,337.5 895.0,337.5C895.7,337.5 896.3,337.6 897.0,337.6C897.7,337.6 898.3,337.7 899.0,337.7C899.7,337.7 900.3,337.7 901.0,337.7C901.7,337.7 902.3,337.6 903.0,337.6C903.7,337.6 904.3,337.5 905.0,337.5C905.7,337.5 906.3,337.5 907.0,337.5C907.7,337.5 908.3,337.5 909.0,337.5C909.7,337.4 910.3,337.4 911.0,337.4C911.7,337.4 912.3,337.4 913.0,337.4C913.7,337.4 914.3,337.3 915.0,337.3C915.7,337.3 916.3,337.4 917.0,337.4C917.7,337.4 918.3,337.4 919.0,337.4C919.7,337.4 920.3,337.5 921.0,337.5C921.7,337.5 922.3,337.5 923.0,337.6C923.7,337.6 924.3,337.7 925.0,337.6C925.7,337.6 926.3,337.5 927.0,337.4C927.7,337.4 928.3,337.3 929.0,337.2C929.7,337.2 930.3,337.2 931.0,337.2C931.7,337.2 932.3,337.3 933.0,337.4C933.7,337.4 934.3,337.5 935.0,337.5C935.7,337.5 936.3,337.5 937.0,337.5C937.7,337.5 938.3,337.5 939.0,337.5C939.7,337.5 940.3,337.5 941.0,337.5C941.7,337.5 942.3,337.5 943.0,337.5C943.7,337.5 944.3,337.5 945.0,337.5C945.7,337.5 946.3,337.5 947.0,337.5C947.7,337.5 948.3,337.5 949.0,337.5C949.7,337.5 950.3,337.4 951.0,337.4C951.7,337.4 952.3,337.5 953.0,337.5C953.7,337.5 954.3,337.5 955.0,337.5C955.7,337.5 956.3,337.4 957.0,337.4C957.7,337.4 958.3,337.3 959.0,337.3C959.7,337.3 960.3,337.3 961.0,337.3C961.7,337.3 962.3,337.3 963.0,337.3C963.7,337.3 964.3,337.3 965.0,337.3C965.7,337.3 966.3,337.3 967.0,337.3C967.7,337.3 968.3,337.3 969.0,337.2C969.7,337.2 970.3,337.2 971.0,337.2C971.7,337.2 972.3,337.1 973.0,337.1C973.7,337.1 974.3,337.0 975.0,337.0C975.7,337.0 976.3,337.1 977.0,337.2C977.7,337.2 978.3,337.3 979.0,337.3C979.7,337.4 980.3,337.4 981.0,337.4C981.7,337.4 982.3,337.3 983.0,337.3C983.7,337.3 984.3,337.3 985.0,337.2C985.7,337.2 986.3,337.2 987.0,337.2C987.7,337.1 988.3,337.1 989.0,337.1C989.7,337.1 990.3,337.1 991.0,337.1C991.7,337.1 992.3,337.1 993.0,337.1C993.7,337.1 994.3,337.2 995.0,337.2C995.7,337.2 996.3,337.2 997.0,337.2C997.7,337.2 998.3,337.2 999.0,337.1C999.7,337.1 1000.3,337.1 1001.0,337.1C1001.7,337.1 1002.3,337.1 1003.0,337.1C1003.7,337.1 1004.3,337.1 1005.0,337.1C1005.7,337.1 1006.3,337.1 1007.0,337.1C1007.7,337.0 1008.3,337.0 1009.0,337.0C1009.7,337.0 1010.3,337.0 1011.0,337.1C1011.7,337.1 1012.3,337.1 1013.0,337.1C1013.7,337.1 1014.3,337.1 1015.0,337.1C1015.7,337.1 1016.3,337.1 1017.0,337.1C1017.7,337.1 1018.3,337.1 1019.0,337.1C1019.7,337.1 1020.3,337.1 1021.0,337.1C1021.7,337.1 1022.3,337.1 1023.0,337.1C1023.7,337.1 1024.3,337.1 1025.0,337.1C1025.7,337.1 1026.3,337.1 1027.0,337.1C1027.7,337.1 1028.3,337.1 1029.0,337.0C1029.7,337.0 1030.3,337.0 1031.0,337.0C1031.7,337.0 1032.3,336.9 1033.0,336.9C1033.7,336.9 1034.3,336.8 1035.0,336.8C1035.7,336.8 1036.3,336.8 1037.0,336.8C1037.7,336.8 1038.3,336.9 1039.0,336.9C1039.7,336.9 1040.3,336.9 1041.0,336.9C1041.7,336.9 1042.3,336.9 1043.0,336.8C1043.7,336.8 1044.3,336.8 1045.0,336.8C1045.7,336.8 1046.3,336.9 1047.0,336.9C1047.7,336.9 1048.3,337.0 1049.0,337.0C1049.7,337.0 1050.3,337.0 1051.0,337.0C1051.7,337.1 1052.3,337.1 1053.0,337.1C1053.7,337.1 1054.3,337.1 1055.0,337.1C1055.7,337.1 1056.3,337.1 1057.0,337.1C1057.7,337.1 1058.3,337.1 1059.0,337.1C1059.7,337.1 1060.3,337.1 1061.0,337.1C1061.7,337.1 1062.3,337.1 1063.0,337.1C1063.7,337.1 1064.3,337.1 1065.0,337.1C1065.7,337.1 1066.3,337.1 1067.0,337.1C1067.7,337.1 1068.3,337.1 1069.0,337.1C1069.7,337.1 1070.3,337.0 1071.0,337.0C1071.7,337.0 1072.3,336.9 1073.0,336.9C1073.7,336.8 1074.3,336.8 1075.0,336.8C1075.7,336.8 1076.3,336.8 1077.0,336.9C1077.7,336.9 1078.3,337.0 1079.0,337.0C1079.7,337.0 1080.3,337.0 1081.0,337.0C1081.7,337.0 1082.3,337.0 1083.0,337.0C1083.7,337.0 1084.3,337.0 1085.0,336.9C1085.7,336.9 1086.3,336.9 1087.0,336.8C1087.7,336.8 1088.3,336.7 1089.0,336.7C1089.7,336.7 1090.3,336.6 1091.0,336.6C1091.7,336.6 1092.3,336.6 1093.0,336.6C1093.7,336.6 1094.3,336.6 1095.0,336.6C1095.7,336.6 1096.3,336.6 1097.0,336.6C1097.7,336.6 1098.3,336.6 1099.0,336.6C1099.7,336.6 1100.3,336.6 1101.0,336.6C1101.7,336.7 1102.3,336.7 1103.0,336.8C1103.7,336.8 1104.3,336.9 1105.0,336.9C1105.7,336.9 1106.3,336.8 1107.0,336.8C1107.7,336.7 1108.3,336.7 1109.0,336.7C1109.7,336.6 1110.3,336.6 1111.0,336.6C1111.7,336.6 1112.3,336.6 1113.0,336.5C1113.7,336.5 1114.3,336.5 1115.0,336.5C1115.7,336.5 1116.3,336.6 1117.0,336.6C1117.7,336.6 1118.3,336.7 1119.0,336.7C1119.7,336.7 1120.3,336.7 1121.0,336.7C1121.7,336.7 1122.3,336.6 1123.0,336.6C1123.7,336.6 1124.3,336.6 1125.0,336.5C1125.7,336.5 1126.3,336.5 1127.0,336.5C1127.7,336.5 1128.3,336.4 1129.0,336.4C1129.7,336.4 1130.3,336.4 1131.0,336.4C1131.7,336.4 1132.3,336.4 1133.0,336.4C1133.7,336.4 1134.3,336.4 1135.0,336.4C1135.7,336.4 1136.3,336.4 1137.0,336.4C1137.7,336.5 1138.3,336.5 1139.0,336.5C1139.7,336.5 1140.3,336.5 1141.0,336.5C1141.7,336.4 1142.3,336.2 1143.0,336.1C1143.7,336.0 1144.3,335.7 1145.0,335.7C1145.7,335.7 1146.3,335.9 1147.0,336.0C1147.7,336.1 1148.3,336.2 1149.0,336.3C1149.7,336.4 1150.3,336.4 1151.0,336.4C1151.7,336.4 1152.3,336.4 1153.0,336.5C1153.7,336.5 1154.3,336.5 1155.0,336.5C1155.7,336.5 1156.3,336.5 1157.0,336.5C1157.7,336.4 1158.3,336.4 1159.0,336.4C1159.7,336.4 1160.3,336.4 1161.0,336.3C1161.7,336.3 1162.3,336.3 1163.0,336.3C1163.7,336.3 1164.3,336.3 1165.0,336.3C1165.7,336.3 1166.3,336.3 1167.0,336.3C1167.7,336.3 1168.3,336.3 1169.0,336.3C1169.7,336.3 1170.3,336.3 1171.0,336.2C1171.7,336.2 1172.3,336.2 1173.0,336.1C1173.7,336.1 1174.3,336.0 1175.0,336.0C1175.7,336.0 1176.3,336.1 1177.0,336.1C1177.7,336.1 1178.3,336.1 1179.0,336.2C1179.7,336.2 1180.3,336.2 1181.0,336.2C1181.7,336.2 1182.3,336.2 1183.0,336.2C1183.7,336.2 1184.4,336.2 1185.0,336.2C1185.6,336.2 1186.2,336.2 1186.5,336.2"/>
<path fill="none" stroke="#0a840a" stroke-width="2.45" stroke-linejoin="round" stroke-linecap="round" d="M34.9,447.3C35.9,447.5 38.7,448.2 40.6,448.3C42.5,448.4 44.4,448.2 46.3,447.7C48.2,447.2 50.2,445.6 52.0,445.1C53.8,444.6 55.7,445.1 56.9,444.5C58.1,443.9 58.6,443.2 59.4,441.6C60.2,440.0 61.1,436.7 61.8,435.1C62.5,433.5 63.0,432.6 63.5,431.8C64.0,431.1 64.5,430.7 65.1,430.6C65.6,430.5 66.3,430.9 66.8,431.2C67.3,431.5 67.4,431.4 68.3,432.6C69.2,433.8 71.0,436.5 72.4,438.3C73.8,440.1 74.9,442.1 76.5,443.6C78.1,445.1 79.8,446.6 82.2,447.3C84.7,448.0 87.9,447.8 91.2,448.0C94.5,448.2 98.4,448.9 101.8,448.8C105.2,448.7 108.6,447.2 111.6,447.1C114.6,447.1 116.7,448.2 119.7,448.5C122.7,448.8 127.0,448.8 129.5,448.9C132.0,449.0 133.2,449.6 134.9,449.3C136.6,449.0 138.5,448.2 139.8,447.3C141.2,446.4 141.8,444.6 143.0,443.6C144.2,442.7 145.7,443.4 146.7,441.6C147.7,439.8 148.1,436.7 148.8,433.0C149.5,429.3 150.2,422.4 150.8,419.2C151.4,415.9 151.8,414.7 152.3,413.5C152.8,412.3 153.2,411.9 153.7,411.8C154.1,411.7 154.6,412.1 155.0,412.6C155.4,413.2 155.5,412.9 156.1,415.1C156.7,417.3 157.6,422.0 158.5,425.7C159.4,429.4 160.6,433.8 161.8,437.1C163.0,440.4 164.3,443.4 165.9,445.3C167.5,447.2 169.4,448.1 171.6,448.5C173.8,448.9 174.9,447.8 178.9,447.9C182.9,448.0 190.5,449.0 195.3,449.3C200.1,449.6 204.0,449.7 207.5,449.5C211.0,449.3 213.1,448.2 216.5,448.1C219.9,448.0 224.7,449.3 227.9,448.9C231.1,448.5 233.3,446.1 235.7,445.9C238.1,445.7 240.4,447.6 242.2,447.5C244.0,447.4 244.5,446.4 246.3,445.0C248.1,443.6 251.3,442.0 252.8,439.3C254.3,436.6 254.6,432.4 255.3,428.7C256.0,425.0 256.4,419.6 256.9,417.3C257.4,415.0 257.7,415.1 258.1,414.9C258.5,414.7 258.9,415.3 259.2,416.0C259.5,416.7 259.6,416.2 260.2,418.9C260.8,421.6 261.8,428.2 262.6,432.0C263.4,435.8 264.0,439.5 265.1,441.8C266.2,444.1 267.3,444.8 269.2,445.9C271.1,447.0 274.2,448.5 276.5,448.7C278.8,448.9 281.1,447.2 283.0,447.1C284.9,447.0 286.5,448.2 287.9,447.9C289.3,447.6 290.3,446.3 291.5,445.5C292.7,444.7 294.1,443.0 295.3,443.0C296.5,443.0 297.4,444.8 298.5,445.5C299.6,446.2 300.3,447.0 301.8,447.1C303.3,447.2 304.9,445.8 307.5,445.9C310.1,446.0 315.2,448.4 317.3,447.9C319.4,447.4 319.2,444.3 320.0,443.0C320.8,441.7 321.4,440.1 322.2,440.0C322.9,439.9 323.7,441.7 324.5,442.5C325.3,443.3 326.1,444.9 327.0,444.6C327.9,444.4 328.9,441.8 329.9,441.0C330.8,440.2 331.9,442.7 332.7,439.7C333.4,436.7 333.9,428.5 334.4,423.0C334.9,417.5 335.2,409.9 335.6,406.7C336.0,403.5 336.4,403.6 336.8,403.6C337.2,403.6 337.7,405.3 338.0,406.5C338.3,407.7 338.1,406.7 338.5,410.8C338.9,414.9 339.8,425.8 340.5,431.2C341.2,436.6 341.8,440.7 342.5,443.4C343.2,446.1 344.0,446.9 345.0,447.5C346.0,448.1 347.0,446.5 348.7,446.7C350.4,446.9 353.2,448.8 355.2,448.7C357.2,448.6 359.4,446.3 360.9,445.9C362.4,445.5 363.2,447.3 364.2,446.3C365.1,445.3 365.9,441.5 366.6,440.1C367.3,438.7 367.8,438.1 368.6,438.1C369.4,438.1 370.5,438.7 371.5,440.1C372.5,441.5 373.7,444.9 374.8,446.3C375.9,447.7 376.5,448.2 378.0,448.3C379.5,448.4 381.6,447.0 383.7,447.1C385.8,447.2 388.4,448.6 390.3,448.7C392.2,448.8 393.6,447.6 395.1,447.5C396.6,447.4 397.8,449.0 399.2,448.3C400.6,447.6 402.1,445.2 403.3,443.4C404.5,441.6 405.2,437.3 406.2,437.3C407.1,437.3 408.1,441.8 409.0,443.4C409.9,445.0 410.3,446.2 411.5,447.1C412.7,448.0 414.8,448.6 416.4,448.7C418.0,448.8 419.8,447.6 421.2,447.5C422.6,447.4 423.5,447.9 425.0,448.3C426.5,448.7 428.8,449.4 430.0,449.7C431.2,449.9 431.3,449.7 432.0,449.7C432.7,449.7 433.3,449.7 434.0,449.7C434.7,449.6 435.3,449.6 436.0,449.5C436.7,449.4 437.3,449.2 438.0,449.1C438.7,449.0 439.3,448.8 440.0,448.8C440.7,448.7 441.3,448.8 442.0,448.8C442.7,448.8 443.3,448.8 444.0,448.8C444.7,448.8 445.3,448.9 446.0,448.9C446.7,449.0 447.3,449.1 448.0,449.2C448.7,449.3 449.3,449.5 450.0,449.6C450.7,449.6 451.3,449.5 452.0,449.5C452.7,449.5 453.3,449.5 454.0,449.5C454.7,449.5 455.3,449.5 456.0,449.4C456.7,449.4 457.3,449.4 458.0,449.4C458.7,449.4 459.3,449.4 460.0,449.4C460.7,449.4 461.3,449.3 462.0,449.2C462.7,449.2 463.3,449.2 464.0,449.0C464.7,448.8 465.3,448.5 466.0,448.0C466.7,447.5 467.3,446.3 468.0,446.2C468.7,446.0 469.3,446.7 470.0,447.2C470.7,447.6 471.3,448.6 472.0,449.0C472.7,449.3 473.3,449.3 474.0,449.3C474.7,449.4 475.3,449.3 476.0,449.3C476.7,449.3 477.3,449.3 478.0,449.3C478.7,449.3 479.3,449.3 480.0,449.3C480.7,449.3 481.3,449.2 482.0,449.2C482.7,449.1 483.3,449.0 484.0,449.0C484.7,449.0 485.3,448.9 486.0,449.0C486.7,449.0 487.3,449.0 488.0,449.1C488.7,449.1 489.3,449.2 490.0,449.2C490.7,449.2 491.3,449.2 492.0,449.2C492.7,449.2 493.3,449.1 494.0,449.1C494.7,449.2 495.3,449.2 496.0,449.2C496.7,449.2 497.3,449.3 498.0,449.3C498.7,449.4 499.3,449.4 500.0,449.5C500.7,449.5 501.3,449.5 502.0,449.6C502.7,449.6 503.3,449.7 504.0,449.7C504.7,449.7 505.3,449.7 506.0,449.7C506.7,449.7 507.3,449.7 508.0,449.7C508.7,449.7 509.3,449.8 510.0,449.6C510.7,449.4 511.3,448.9 512.0,448.5C512.7,448.2 513.3,447.4 514.0,447.4C514.7,447.3 515.3,448.0 516.0,448.3C516.7,448.6 517.3,449.0 518.0,449.1C518.7,449.3 519.3,449.2 520.0,449.2C520.7,449.2 521.3,449.2 522.0,449.1C522.7,449.1 523.3,449.1 524.0,449.1C524.7,449.0 525.3,449.0 526.0,449.0C526.7,449.0 527.3,448.9 528.0,448.9C528.7,448.9 529.3,448.8 530.0,448.8C530.7,448.8 531.3,448.8 532.0,448.8C532.7,448.8 533.3,448.8 534.0,448.8C534.7,448.8 535.3,448.8 536.0,448.9C536.7,448.9 537.3,449.0 538.0,449.1C538.7,449.1 539.3,449.2 540.0,449.2C540.7,449.3 541.3,449.2 542.0,449.2C542.7,449.2 543.3,449.1 544.0,449.1C544.7,449.1 545.3,449.1 546.0,449.1C546.7,449.1 547.3,449.1 548.0,449.1C548.7,449.2 549.3,449.1 550.0,449.2C550.7,449.2 551.3,449.3 552.0,449.4C552.7,449.4 553.3,449.5 554.0,449.6C554.7,449.6 555.3,449.6 556.0,449.6C556.7,449.6 557.3,449.5 558.0,449.5C558.7,449.4 559.3,449.3 560.0,449.3C560.7,449.3 561.3,449.3 562.0,449.3C562.7,449.3 563.3,449.4 564.0,449.4C564.7,449.3 565.3,449.3 566.0,449.3C566.7,449.3 567.3,449.2 568.0,449.2C568.7,449.1 569.3,449.1 570.0,449.0C570.7,449.0 571.3,449.0 572.0,449.0C572.7,448.9 573.3,448.9 574.0,448.9C574.7,448.9 575.3,448.9 576.0,448.9C576.7,448.9 577.3,449.0 578.0,449.0C578.7,449.1 579.3,449.1 580.0,449.1C580.7,449.1 581.3,449.1 582.0,449.1C582.7,449.0 583.3,449.0 584.0,449.0C584.7,449.0 585.3,449.0 586.0,449.0C586.7,449.1 587.3,449.1 588.0,449.2C588.7,449.2 589.3,449.3 590.0,449.3C590.7,449.4 591.3,449.5 592.0,449.5C592.7,449.6 593.3,449.7 594.0,449.7C594.7,449.8 595.3,449.8 596.0,449.8C596.7,449.7 597.3,449.7 598.0,449.6C598.7,449.6 599.3,449.6 600.0,449.5C600.7,449.4 601.3,449.4 602.0,449.3C602.7,449.2 603.3,449.1 604.0,449.1C604.7,449.1 605.3,449.1 606.0,449.2C606.7,449.2 607.3,449.3 608.0,449.4C608.7,449.5 609.3,449.7 610.0,449.7C610.7,449.8 611.3,449.7 612.0,449.7C612.7,449.7 613.3,449.7 614.0,449.7C614.7,449.6 615.3,449.6 616.0,449.6C616.7,449.6 617.3,449.6 618.0,449.6C618.7,449.6 619.3,449.6 620.0,449.6C620.7,449.6 621.3,449.6 622.0,449.6C622.7,449.7 623.3,449.7 624.0,449.7C624.7,449.7 625.3,449.7 626.0,449.7C626.7,449.7 627.3,449.7 628.0,449.7C628.7,449.6 629.3,449.6 630.0,449.6C630.7,449.6 631.3,449.6 632.0,449.6C632.7,449.6 633.3,449.6 634.0,449.6C634.7,449.6 635.3,449.6 636.0,449.6C636.7,449.5 637.3,449.4 638.0,449.4C638.7,449.3 639.3,449.2 640.0,449.2C640.7,449.2 641.3,449.4 642.0,449.5C642.7,449.5 643.3,449.7 644.0,449.7C644.7,449.8 645.3,449.8 646.0,449.8C646.7,449.9 647.3,449.8 648.0,449.8C648.7,449.8 649.3,449.9 650.0,449.8C650.7,449.8 651.3,449.6 652.0,449.5C652.7,449.4 653.3,449.2 654.0,449.2C654.7,449.1 655.3,449.1 656.0,449.1C656.7,449.2 657.3,449.3 658.0,449.4C658.7,449.5 659.3,449.6 660.0,449.6C660.7,449.7 661.3,449.6 662.0,449.6C662.7,449.6 663.3,449.6 664.0,449.6C664.7,449.6 665.3,449.6 666.0,449.5C666.7,449.5 667.3,449.5 668.0,449.4C668.7,449.4 669.3,449.4 670.0,449.3C670.7,449.3 671.3,449.4 672.0,449.4C672.7,449.4 673.3,449.4 674.0,449.4C674.7,449.4 675.3,449.4 676.0,449.4C676.7,449.4 677.3,449.4 678.0,449.4C678.7,449.4 679.3,449.3 680.0,449.4C680.7,449.4 681.3,449.5 682.0,449.6C682.7,449.6 683.3,449.7 684.0,449.7C684.7,449.8 685.3,449.8 686.0,449.7C686.7,449.7 687.3,449.6 688.0,449.6C688.7,449.5 689.3,449.4 690.0,449.4C690.7,449.4 691.3,449.5 692.0,449.5C692.7,449.6 693.3,449.6 694.0,449.7C694.7,449.7 695.3,449.7 696.0,449.6C696.7,449.6 697.3,449.5 698.0,449.4C698.7,449.4 699.3,449.2 700.0,449.3C700.7,449.3 701.3,449.4 702.0,449.5C702.7,449.5 703.3,449.6 704.0,449.7C704.7,449.7 705.3,449.8 706.0,449.8C706.7,449.8 707.3,449.8 708.0,449.8C708.7,449.8 709.3,449.8 710.0,449.8C710.7,449.8 711.3,449.7 712.0,449.6C712.7,449.6 713.3,449.5 714.0,449.5C714.7,449.4 715.3,449.4 716.0,449.4C716.7,449.4 717.3,449.4 718.0,449.5C718.7,449.5 719.3,449.5 720.0,449.5C720.7,449.5 721.3,449.6 722.0,449.6C722.7,449.7 723.3,449.8 724.0,449.8C724.7,449.8 725.3,449.8 726.0,449.8C726.7,449.8 727.3,449.8 728.0,449.7C728.7,449.7 729.3,449.7 730.0,449.7C730.7,449.6 731.3,449.6 732.0,449.6C732.7,449.5 733.3,449.5 734.0,449.5C734.7,449.5 735.3,449.4 736.0,449.4C736.7,449.4 737.3,449.3 738.0,449.3C738.7,449.3 739.3,449.2 740.0,449.2C740.7,449.2 741.3,449.2 742.0,449.2C742.7,449.2 743.3,449.2 744.0,449.3C744.7,449.3 745.3,449.3 746.0,449.4C746.7,449.4 747.3,449.5 748.0,449.5C748.7,449.6 749.3,449.7 750.0,449.7C750.7,449.7 751.3,449.5 752.0,449.5C752.7,449.4 753.3,449.3 754.0,449.3C754.7,449.2 755.3,449.2 756.0,449.3C756.7,449.4 757.3,449.5 758.0,449.6C758.7,449.7 759.3,449.9 760.0,449.9C760.7,449.9 761.3,449.8 762.0,449.6C762.7,449.5 763.3,449.3 764.0,449.1C764.7,448.8 765.3,448.2 766.0,448.0C766.7,447.9 767.3,448.1 768.0,448.3C768.7,448.6 769.3,449.4 770.0,449.6C770.7,449.8 771.3,449.7 772.0,449.7C772.7,449.6 773.3,449.5 774.0,449.4C774.7,449.4 775.3,449.4 776.0,449.5C776.7,449.5 777.3,449.6 778.0,449.7C778.7,449.8 779.3,449.9 780.0,450.0C780.7,450.0 781.3,449.9 782.0,449.9C782.7,449.8 783.3,449.8 784.0,449.8C784.7,449.8 785.3,449.7 786.0,449.7C786.7,449.7 787.3,449.6 788.0,449.6C788.7,449.6 789.3,449.6 790.0,449.5C790.7,449.5 791.3,449.5 792.0,449.5C792.7,449.6 793.3,449.5 794.0,449.6C794.7,449.6 795.3,449.6 796.0,449.6C796.7,449.6 797.3,449.6 798.0,449.6C798.7,449.7 799.3,449.7 800.0,449.7C800.7,449.7 801.3,449.7 802.0,449.7C802.7,449.7 803.3,449.7 804.0,449.7C804.7,449.6 805.3,449.6 806.0,449.6C806.7,449.6 807.3,449.5 808.0,449.5C808.7,449.4 809.3,449.4 810.0,449.4C810.7,449.4 811.3,449.4 812.0,449.3C812.7,449.3 813.3,449.3 814.0,449.3C814.7,449.3 815.3,449.3 816.0,449.3C816.7,449.4 817.3,449.4 818.0,449.5C818.7,449.5 819.3,449.5 820.0,449.6C820.7,449.6 821.3,449.7 822.0,449.8C822.7,449.8 823.3,449.9 824.0,449.9C824.7,450.0 825.3,450.0 826.0,450.0C826.7,449.9 827.3,449.9 828.0,449.8C828.7,449.8 829.3,449.8 830.0,449.7C830.7,449.7 831.3,449.6 832.0,449.5C832.7,449.4 833.3,449.3 834.0,449.3C834.7,449.3 835.3,449.3 836.0,449.3C836.7,449.4 837.3,449.5 838.0,449.6C838.7,449.7 839.3,449.9 840.0,449.9C840.7,450.0 841.3,449.9 842.0,449.9C842.7,449.9 843.3,449.9 844.0,449.9C844.7,449.9 845.3,449.9 846.0,449.9C846.7,449.9 847.3,450.0 848.0,450.0C848.7,449.9 849.3,449.9 850.0,449.8C850.7,449.8 851.3,449.7 852.0,449.7C852.7,449.6 853.3,449.6 854.0,449.5C854.7,449.5 855.3,449.5 856.0,449.5C856.7,449.6 857.3,449.6 858.0,449.6C858.7,449.7 859.3,449.8 860.0,449.8C860.7,449.8 861.3,449.7 862.0,449.6C862.7,449.6 863.3,449.5 864.0,449.5C864.7,449.5 865.3,449.5 866.0,449.5C866.7,449.5 867.3,449.6 868.0,449.6C868.7,449.7 869.3,449.7 870.0,449.7C870.7,449.7 871.3,449.7 872.0,449.7C872.7,449.6 873.3,449.6 874.0,449.6C874.7,449.6 875.3,449.6 876.0,449.5C876.7,449.5 877.3,449.5 878.0,449.5C878.7,449.5 879.3,449.5 880.0,449.5C880.7,449.6 881.3,449.6 882.0,449.7C882.7,449.7 883.3,449.8 884.0,449.8C884.7,449.8 885.3,449.8 886.0,449.8C886.7,449.8 887.3,449.7 888.0,449.6C888.7,449.6 889.3,449.5 890.0,449.5C890.7,449.5 891.3,449.5 892.0,449.6C892.7,449.6 893.3,449.6 894.0,449.7C894.7,449.7 895.3,449.7 896.0,449.7C896.7,449.8 897.3,449.8 898.0,449.8C898.7,449.8 899.3,449.9 900.0,449.9C900.7,449.9 901.3,449.8 902.0,449.7C902.7,449.7 903.3,449.6 904.0,449.6C904.7,449.5 905.3,449.5 906.0,449.5C906.7,449.5 907.3,449.5 908.0,449.5C908.7,449.5 909.3,449.4 910.0,449.4C910.7,449.4 911.3,449.5 912.0,449.5C912.7,449.6 913.3,449.6 914.0,449.7C914.7,449.7 915.3,449.7 916.0,449.7C916.7,449.6 917.3,449.6 918.0,449.5C918.7,449.5 919.3,449.4 920.0,449.4C920.7,449.4 921.3,449.4 922.0,449.5C922.7,449.5 923.3,449.5 924.0,449.5C924.7,449.5 925.3,449.5 926.0,449.4C926.7,449.4 927.3,449.3 928.0,449.3C928.7,449.2 929.3,449.1 930.0,449.1C930.7,449.1 931.3,449.1 932.0,449.1C932.7,449.2 933.3,449.2 934.0,449.2C934.7,449.2 935.3,449.2 936.0,449.2C936.7,449.2 937.3,449.1 938.0,449.1C938.7,449.1 939.3,449.1 940.0,449.1C940.7,449.1 941.3,449.1 942.0,449.1C942.7,449.2 943.3,449.2 944.0,449.2C944.7,449.2 945.3,449.2 946.0,449.2C946.7,449.1 947.3,449.1 948.0,449.0C948.7,449.0 949.3,448.9 950.0,448.9C950.7,448.9 951.3,449.0 952.0,449.0C952.7,449.1 953.3,449.2 954.0,449.2C954.7,449.2 955.3,449.2 956.0,449.2C956.7,449.1 957.3,449.0 958.0,449.0C958.7,448.9 959.3,448.8 960.0,448.7C960.7,448.7 961.3,448.8 962.0,448.9C962.7,448.9 963.3,449.0 964.0,449.0C964.7,449.0 965.3,449.0 966.0,449.0C966.7,448.9 967.3,448.8 968.0,448.8C968.7,448.7 969.3,448.6 970.0,448.6C970.7,448.6 971.3,448.6 972.0,448.6C972.7,448.7 973.3,448.7 974.0,448.7C974.7,448.7 975.3,448.7 976.0,448.7C976.7,448.7 977.3,448.8 978.0,448.8C978.7,448.8 979.3,448.9 980.0,448.9C980.7,448.9 981.3,448.8 982.0,448.7C982.7,448.7 983.3,448.6 984.0,448.6C984.7,448.5 985.3,448.5 986.0,448.5C986.7,448.5 987.3,448.5 988.0,448.5C988.7,448.5 989.3,448.5 990.0,448.5C990.7,448.5 991.3,448.5 992.0,448.5C992.7,448.6 993.3,448.6 994.0,448.6C994.7,448.6 995.3,448.6 996.0,448.6C996.7,448.6 997.3,448.6 998.0,448.5C998.7,448.5 999.3,448.5 1000.0,448.4C1000.7,448.4 1001.3,448.4 1002.0,448.4C1002.7,448.3 1003.3,448.3 1004.0,448.3C1004.7,448.2 1005.3,448.3 1006.0,448.3C1006.7,448.3 1007.3,448.4 1008.0,448.5C1008.7,448.5 1009.3,448.6 1010.0,448.6C1010.7,448.6 1011.3,448.5 1012.0,448.4C1012.7,448.4 1013.3,448.3 1014.0,448.2C1014.7,448.2 1015.3,448.1 1016.0,448.1C1016.7,448.1 1017.3,448.1 1018.0,448.1C1018.7,448.1 1019.3,448.0 1020.0,448.0C1020.7,448.0 1021.3,448.1 1022.0,448.1C1022.7,448.1 1023.3,448.1 1024.0,448.1C1024.7,448.1 1025.3,448.1 1026.0,448.1C1026.7,448.1 1027.3,448.2 1028.0,448.2C1028.7,448.2 1029.3,448.2 1030.0,448.2C1030.7,448.2 1031.3,448.2 1032.0,448.2C1032.7,448.2 1033.3,448.2 1034.0,448.2C1034.7,448.2 1035.3,448.2 1036.0,448.1C1036.7,448.1 1037.3,448.0 1038.0,448.0C1038.7,447.9 1039.3,447.8 1040.0,447.8C1040.7,447.8 1041.3,447.8 1042.0,447.8C1042.7,447.9 1043.3,447.9 1044.0,447.9C1044.7,447.9 1045.3,447.9 1046.0,447.8C1046.7,447.8 1047.3,447.8 1048.0,447.8C1048.7,447.7 1049.3,447.7 1050.0,447.7C1050.7,447.7 1051.3,447.7 1052.0,447.7C1052.7,447.7 1053.3,447.8 1054.0,447.8C1054.7,447.8 1055.3,447.8 1056.0,447.8C1056.7,447.8 1057.3,447.9 1058.0,447.9C1058.7,447.9 1059.3,447.9 1060.0,447.9C1060.7,447.9 1061.3,447.9 1062.0,447.9C1062.7,447.9 1063.3,447.9 1064.0,447.9C1064.7,447.8 1065.3,447.8 1066.0,447.8C1066.7,447.8 1067.3,447.8 1068.0,447.9C1068.7,447.9 1069.3,447.9 1070.0,447.9C1070.7,447.9 1071.3,447.8 1072.0,447.8C1072.7,447.8 1073.3,447.8 1074.0,447.8C1074.7,447.7 1075.3,447.7 1076.0,447.7C1076.7,447.7 1077.3,447.7 1078.0,447.7C1078.7,447.7 1079.3,447.7 1080.0,447.7C1080.7,447.7 1081.3,447.7 1082.0,447.7C1082.7,447.6 1083.3,447.6 1084.0,447.6C1084.7,447.6 1085.3,447.6 1086.0,447.5C1086.7,447.5 1087.3,447.5 1088.0,447.5C1088.7,447.5 1089.3,447.4 1090.0,447.4C1090.7,447.4 1091.3,447.4 1092.0,447.3C1092.7,447.3 1093.3,447.3 1094.0,447.3C1094.7,447.2 1095.3,447.2 1096.0,447.3C1096.7,447.3 1097.3,447.3 1098.0,447.3C1098.7,447.3 1099.3,447.4 1100.0,447.4C1100.7,447.4 1101.3,447.3 1102.0,447.3C1102.7,447.2 1103.3,447.2 1104.0,447.2C1104.7,447.1 1105.3,447.1 1106.0,447.1C1106.7,447.1 1107.3,447.0 1108.0,447.0C1108.7,447.0 1109.3,446.9 1110.0,446.9C1110.7,446.9 1111.3,447.0 1112.0,447.0C1112.7,447.0 1113.3,447.0 1114.0,447.0C1114.7,447.0 1115.3,447.0 1116.0,447.0C1116.7,447.1 1117.3,447.1 1118.0,447.1C1118.7,447.1 1119.3,447.2 1120.0,447.1C1120.7,447.1 1121.3,447.0 1122.0,447.0C1122.7,446.9 1123.3,446.8 1124.0,446.8C1124.7,446.7 1125.3,446.7 1126.0,446.7C1126.7,446.7 1127.3,446.7 1128.0,446.8C1128.7,446.8 1129.3,446.8 1130.0,446.8C1130.7,446.8 1131.3,446.8 1132.0,446.7C1132.7,446.7 1133.3,446.7 1134.0,446.7C1134.7,446.7 1135.3,446.6 1136.0,446.6C1136.7,446.6 1137.3,446.7 1138.0,446.6C1138.7,446.5 1139.3,446.4 1140.0,446.1C1140.7,445.9 1141.3,445.2 1142.0,445.1C1142.7,445.0 1143.3,445.1 1144.0,445.3C1144.7,445.5 1145.3,446.0 1146.0,446.2C1146.7,446.4 1147.3,446.4 1148.0,446.5C1148.7,446.6 1149.3,446.7 1150.0,446.7C1150.7,446.7 1151.3,446.5 1152.0,446.5C1152.7,446.4 1153.3,446.4 1154.0,446.3C1154.7,446.3 1155.3,446.2 1156.0,446.2C1156.7,446.2 1157.3,446.3 1158.0,446.3C1158.7,446.3 1159.3,446.3 1160.0,446.3C1160.7,446.3 1161.3,446.3 1162.0,446.2C1162.7,446.2 1163.3,446.2 1164.0,446.2C1164.7,446.1 1165.3,446.1 1166.0,446.1C1166.7,446.0 1167.3,446.0 1168.0,446.0C1168.7,445.9 1169.3,445.9 1170.0,445.8C1170.7,445.8 1171.3,445.9 1172.0,445.9C1172.7,445.9 1173.3,446.0 1174.0,446.0C1174.7,446.0 1175.3,446.0 1176.0,446.0C1176.7,445.9 1177.3,445.9 1178.0,445.9C1178.7,445.8 1179.3,445.8 1180.0,445.7C1180.7,445.7 1181.3,445.7 1182.0,445.7C1182.7,445.7 1183.3,445.6 1184.0,445.6C1184.7,445.6 1185.6,445.6 1186.0,445.6C1186.4,445.6 1186.4,445.8 1186.5,445.8"/>
<path fill="none" stroke="#ff00ff" stroke-width="2.45" stroke-linejoin="round" stroke-linecap="round" d="M34.5,548.2C36.2,548.3 41.8,549.2 44.7,548.9C47.6,548.6 50.1,546.7 52.0,546.2C53.9,545.7 55.0,546.4 56.1,545.8C57.2,545.2 57.5,543.9 58.5,542.5C59.5,541.1 60.7,538.6 61.8,537.2C62.9,535.9 64.0,534.6 65.1,534.4C66.2,534.2 67.1,534.9 68.3,536.0C69.5,537.1 70.9,539.5 72.4,541.3C73.9,543.1 75.5,545.4 77.3,546.6C79.1,547.8 80.0,548.2 83.0,548.6C86.0,549.0 91.9,548.9 95.3,549.0C98.7,549.1 100.7,549.4 103.4,549.2C106.1,549.1 107.2,548.1 111.6,548.1C115.9,548.1 125.2,549.1 129.5,549.2C133.8,549.3 135.2,549.2 137.3,548.6C139.4,548.0 140.7,546.3 142.2,545.4C143.7,544.5 145.2,544.9 146.3,543.3C147.4,541.7 148.0,538.8 148.8,535.6C149.6,532.4 150.6,526.6 151.2,524.2C151.8,521.8 152.1,521.7 152.5,521.0C152.9,520.3 153.3,520.1 153.7,520.1C154.1,520.1 154.6,520.4 155.0,520.9C155.4,521.4 155.4,521.3 156.1,523.3C156.8,525.3 158.2,529.8 159.4,533.1C160.6,536.4 161.9,540.5 163.4,542.9C164.9,545.3 166.7,546.8 168.3,547.8C169.9,548.8 171.4,549.0 173.2,549.0C175.0,549.0 176.6,547.8 178.9,547.8C181.2,547.8 183.0,548.7 187.1,549.0C191.2,549.3 198.7,549.9 203.4,549.8C208.2,549.7 211.2,548.7 215.6,548.6C219.9,548.5 226.2,549.6 229.5,549.4C232.8,549.2 233.6,547.5 235.7,547.4C237.8,547.3 240.3,548.9 242.2,548.6C244.1,548.3 245.3,546.9 247.1,545.8C248.9,544.7 251.4,544.1 252.8,542.1C254.2,540.1 254.6,536.4 255.3,533.9C256.0,531.4 256.5,528.4 257.0,527.0C257.5,525.6 257.7,525.5 258.1,525.4C258.5,525.3 258.8,525.6 259.3,526.5C259.8,527.4 260.2,528.1 261.0,530.7C261.8,533.3 263.1,539.4 264.3,542.1C265.5,544.8 266.1,545.9 268.3,547.0C270.5,548.1 274.9,548.9 277.3,549.0C279.8,549.1 281.2,547.9 283.0,547.8C284.8,547.7 286.5,548.7 287.9,548.6C289.3,548.5 290.3,547.6 291.5,547.0C292.7,546.4 294.1,545.0 295.3,545.0C296.5,545.0 297.4,546.3 298.5,546.8C299.6,547.3 300.3,548.1 301.8,548.2C303.3,548.3 304.9,547.3 307.5,547.4C310.1,547.5 314.9,548.9 317.3,548.6C319.8,548.3 320.7,545.5 322.2,545.4C323.7,545.3 324.9,547.7 326.2,547.8C327.5,547.9 328.7,546.2 329.9,545.8C331.1,545.4 332.3,547.0 333.2,545.4C334.1,543.8 334.6,538.5 335.2,536.4C335.8,534.3 336.2,532.7 336.8,532.7C337.4,532.7 338.1,534.4 338.9,536.4C339.6,538.4 340.4,543.0 341.3,545.0C342.2,547.0 343.4,548.2 344.6,548.6C345.8,549.0 346.9,547.3 348.7,547.4C350.5,547.5 353.2,549.2 355.2,549.0C357.2,548.8 359.4,546.5 360.9,546.2C362.4,545.9 363.0,547.6 364.2,547.0C365.4,546.4 367.0,542.8 368.2,542.5C369.4,542.2 370.3,544.0 371.5,545.0C372.7,546.0 373.8,548.1 375.6,548.6C377.4,549.1 379.7,547.7 382.1,547.8C384.6,547.9 388.0,548.9 390.3,549.0C392.6,549.1 394.4,548.3 396.0,548.2C397.6,548.1 398.8,549.0 400.0,548.6C401.2,548.2 402.2,546.9 403.2,546.0C404.2,545.1 405.1,543.1 406.2,543.3C407.3,543.5 408.2,546.4 409.8,547.4C411.4,548.4 413.7,549.3 415.5,549.4C417.3,549.5 418.8,548.3 420.4,548.2C422.0,548.1 423.4,548.9 425.0,549.0C426.6,549.1 428.8,548.9 430.0,548.9C431.2,548.9 431.3,549.0 432.0,549.1C432.7,549.1 433.3,549.2 434.0,549.2C434.7,549.2 435.3,549.2 436.0,549.2C436.7,549.2 437.3,549.2 438.0,549.1C438.7,549.1 439.3,549.1 440.0,549.1C440.7,549.1 441.3,549.1 442.0,549.2C442.7,549.2 443.3,549.2 444.0,549.3C444.7,549.3 445.3,549.3 446.0,549.3C446.7,549.3 447.3,549.3 448.0,549.3C448.7,549.3 449.3,549.4 450.0,549.3C450.7,549.3 451.3,549.2 452.0,549.1C452.7,549.0 453.3,548.9 454.0,548.9C454.7,548.8 455.3,548.8 456.0,548.8C456.7,548.7 457.3,548.8 458.0,548.7C458.7,548.7 459.3,548.7 460.0,548.7C460.7,548.8 461.3,549.0 462.0,549.1C462.7,549.1 463.3,549.4 464.0,549.3C464.7,549.1 465.3,548.7 466.0,548.1C466.7,547.6 467.3,546.1 468.0,546.0C468.7,545.8 469.3,546.5 470.0,547.0C470.7,547.4 471.3,548.3 472.0,548.7C472.7,549.0 473.3,548.9 474.0,548.9C474.7,549.0 475.3,549.0 476.0,549.1C476.7,549.2 477.3,549.3 478.0,549.4C478.7,549.5 479.3,549.7 480.0,549.7C480.7,549.7 481.3,549.6 482.0,549.5C482.7,549.4 483.3,549.3 484.0,549.3C484.7,549.3 485.3,549.2 486.0,549.3C486.7,549.3 487.3,549.4 488.0,549.4C488.7,549.5 489.3,549.6 490.0,549.6C490.7,549.6 491.3,549.5 492.0,549.4C492.7,549.4 493.3,549.3 494.0,549.3C494.7,549.2 495.3,549.2 496.0,549.2C496.7,549.2 497.3,549.3 498.0,549.3C498.7,549.3 499.3,549.4 500.0,549.4C500.7,549.3 501.3,549.2 502.0,549.2C502.7,549.1 503.3,549.0 504.0,549.0C504.7,548.9 505.3,548.9 506.0,549.0C506.7,549.0 507.3,549.1 508.0,549.2C508.7,549.2 509.3,549.4 510.0,549.3C510.7,549.2 511.3,549.0 512.0,548.7C512.7,548.4 513.3,547.4 514.0,547.3C514.7,547.1 515.3,547.5 516.0,547.8C516.7,548.1 517.3,548.8 518.0,549.1C518.7,549.3 519.3,549.2 520.0,549.2C520.7,549.3 521.3,549.3 522.0,549.3C522.7,549.4 523.3,549.4 524.0,549.4C524.7,549.5 525.3,549.5 526.0,549.5C526.7,549.5 527.3,549.4 528.0,549.4C528.7,549.4 529.3,549.5 530.0,549.4C530.7,549.4 531.3,549.2 532.0,549.2C532.7,549.1 533.3,549.0 534.0,548.9C534.7,548.9 535.3,548.9 536.0,548.9C536.7,549.0 537.3,549.1 538.0,549.2C538.7,549.3 539.3,549.5 540.0,549.5C540.7,549.5 541.3,549.5 542.0,549.4C542.7,549.4 543.3,549.4 544.0,549.4C544.7,549.3 545.3,549.3 546.0,549.3C546.7,549.2 547.3,549.2 548.0,549.2C548.7,549.1 549.3,549.1 550.0,549.0C550.7,549.0 551.3,549.0 552.0,548.9C552.7,548.9 553.3,548.8 554.0,548.8C554.7,548.8 555.3,548.9 556.0,548.9C556.7,549.0 557.3,549.2 558.0,549.3C558.7,549.4 559.3,549.6 560.0,549.6C560.7,549.6 561.3,549.5 562.0,549.5C562.7,549.4 563.3,549.3 564.0,549.3C564.7,549.3 565.3,549.3 566.0,549.3C566.7,549.3 567.3,549.3 568.0,549.4C568.7,549.4 569.3,549.4 570.0,549.5C570.7,549.5 571.3,549.5 572.0,549.5C572.7,549.6 573.3,549.6 574.0,549.6C574.7,549.6 575.3,549.6 576.0,549.6C576.7,549.6 577.3,549.6 578.0,549.5C578.7,549.5 579.3,549.5 580.0,549.5C580.7,549.5 581.3,549.5 582.0,549.6C582.7,549.6 583.3,549.6 584.0,549.6C584.7,549.6 585.3,549.6 586.0,549.6C586.7,549.5 587.3,549.4 588.0,549.4C588.7,549.3 589.3,549.2 590.0,549.2C590.7,549.1 591.3,549.3 592.0,549.3C592.7,549.4 593.3,549.5 594.0,549.5C594.7,549.5 595.3,549.5 596.0,549.5C596.7,549.5 597.3,549.4 598.0,549.3C598.7,549.3 599.3,549.2 600.0,549.2C600.7,549.2 601.3,549.3 602.0,549.4C602.7,549.5 603.3,549.6 604.0,549.6C604.7,549.6 605.3,549.7 606.0,549.7C606.7,549.7 607.3,549.7 608.0,549.7C608.7,549.7 609.3,549.7 610.0,549.6C610.7,549.6 611.3,549.4 612.0,549.3C612.7,549.2 613.3,549.1 614.0,549.0C614.7,548.9 615.3,548.9 616.0,548.9C616.7,548.9 617.3,548.9 618.0,548.9C618.7,548.9 619.3,548.9 620.0,548.9C620.7,548.9 621.3,548.9 622.0,548.9C622.7,549.0 623.3,548.9 624.0,549.0C624.7,549.0 625.3,549.1 626.0,549.1C626.7,549.2 627.3,549.3 628.0,549.4C628.7,549.5 629.3,549.7 630.0,549.7C630.7,549.8 631.3,549.6 632.0,549.5C632.7,549.5 633.3,549.4 634.0,549.3C634.7,549.3 635.3,549.2 636.0,549.3C636.7,549.3 637.3,549.3 638.0,549.3C638.7,549.4 639.3,549.4 640.0,549.4C640.7,549.4 641.3,549.3 642.0,549.3C642.7,549.2 643.3,549.2 644.0,549.1C644.7,549.1 645.3,549.1 646.0,549.1C646.7,549.1 647.3,549.2 648.0,549.2C648.7,549.2 649.3,549.3 650.0,549.3C650.7,549.3 651.3,549.3 652.0,549.2C652.7,549.2 653.3,549.2 654.0,549.2C654.7,549.2 655.3,549.2 656.0,549.2C656.7,549.2 657.3,549.2 658.0,549.1C658.7,549.1 659.3,549.1 660.0,549.1C660.7,549.1 661.3,549.2 662.0,549.2C662.7,549.3 663.3,549.3 664.0,549.3C664.7,549.3 665.3,549.4 666.0,549.4C666.7,549.4 667.3,549.4 668.0,549.4C668.7,549.4 669.3,549.4 670.0,549.4C670.7,549.4 671.3,549.5 672.0,549.5C672.7,549.5 673.3,549.6 674.0,549.6C674.7,549.7 675.3,549.7 676.0,549.7C676.7,549.6 677.3,549.6 678.0,549.6C678.7,549.5 679.3,549.5 680.0,549.5C680.7,549.5 681.3,549.5 682.0,549.6C682.7,549.6 683.3,549.7 684.0,549.7C684.7,549.7 685.3,549.7 686.0,549.7C686.7,549.7 687.3,549.7 688.0,549.7C688.7,549.7 689.3,549.6 690.0,549.7C690.7,549.7 691.3,549.7 692.0,549.7C692.7,549.7 693.3,549.8 694.0,549.8C694.7,549.8 695.3,549.8 696.0,549.7C696.7,549.7 697.3,549.6 698.0,549.6C698.7,549.6 699.3,549.5 700.0,549.5C700.7,549.4 701.3,549.3 702.0,549.3C702.7,549.2 703.3,549.1 704.0,549.1C704.7,549.0 705.3,549.1 706.0,549.1C706.7,549.2 707.3,549.3 708.0,549.4C708.7,549.5 709.3,549.6 710.0,549.7C710.7,549.7 711.3,549.7 712.0,549.7C712.7,549.7 713.3,549.7 714.0,549.8C714.7,549.8 715.3,549.8 716.0,549.8C716.7,549.8 717.3,549.7 718.0,549.7C718.7,549.7 719.3,549.7 720.0,549.7C720.7,549.7 721.3,549.6 722.0,549.6C722.7,549.5 723.3,549.5 724.0,549.4C724.7,549.4 725.3,549.4 726.0,549.4C726.7,549.4 727.3,549.5 728.0,549.5C728.7,549.5 729.3,549.6 730.0,549.5C730.7,549.5 731.3,549.4 732.0,549.3C732.7,549.3 733.3,549.2 734.0,549.1C734.7,549.1 735.3,549.1 736.0,549.2C736.7,549.2 737.3,549.3 738.0,549.4C738.7,549.5 739.3,549.6 740.0,549.7C740.7,549.7 741.3,549.6 742.0,549.5C742.7,549.5 743.3,549.5 744.0,549.4C744.7,549.4 745.3,549.4 746.0,549.3C746.7,549.3 747.3,549.3 748.0,549.2C748.7,549.2 749.3,549.1 750.0,549.1C750.7,549.1 751.3,549.1 752.0,549.0C752.7,549.0 753.3,548.9 754.0,548.9C754.7,548.9 755.3,549.0 756.0,549.0C756.7,549.1 757.3,549.3 758.0,549.4C758.7,549.5 759.3,549.6 760.0,549.7C760.7,549.7 761.3,549.7 762.0,549.7C762.7,549.8 763.3,549.8 764.0,549.8C764.7,549.8 765.3,549.7 766.0,549.6C766.7,549.6 767.3,549.4 768.0,549.3C768.7,549.2 769.3,548.9 770.0,548.9C770.7,548.9 771.3,549.1 772.0,549.2C772.7,549.3 773.3,549.4 774.0,549.5C774.7,549.6 775.3,549.6 776.0,549.6C776.7,549.5 777.3,549.5 778.0,549.4C778.7,549.4 779.3,549.3 780.0,549.3C780.7,549.2 781.3,549.2 782.0,549.1C782.7,549.1 783.3,549.1 784.0,549.0C784.7,549.0 785.3,549.0 786.0,549.0C786.7,549.0 787.3,549.1 788.0,549.1C788.7,549.1 789.3,549.1 790.0,549.1C790.7,549.2 791.3,549.3 792.0,549.3C792.7,549.4 793.3,549.5 794.0,549.5C794.7,549.6 795.3,549.6 796.0,549.6C796.7,549.7 797.3,549.7 798.0,549.7C798.7,549.7 799.3,549.8 800.0,549.7C800.7,549.7 801.3,549.5 802.0,549.4C802.7,549.3 803.3,549.1 804.0,549.1C804.7,549.0 805.3,549.0 806.0,549.0C806.7,549.0 807.3,549.2 808.0,549.2C808.7,549.3 809.3,549.5 810.0,549.5C810.7,549.5 811.3,549.3 812.0,549.2C812.7,549.2 813.3,549.1 814.0,549.0C814.7,549.0 815.3,549.0 816.0,549.0C816.7,549.1 817.3,549.2 818.0,549.3C818.7,549.4 819.3,549.6 820.0,549.6C820.7,549.6 821.3,549.5 822.0,549.4C822.7,549.4 823.3,549.3 824.0,549.3C824.7,549.3 825.3,549.3 826.0,549.3C826.7,549.3 827.3,549.5 828.0,549.5C828.7,549.6 829.3,549.7 830.0,549.7C830.7,549.8 831.3,549.8 832.0,549.8C832.7,549.8 833.3,549.8 834.0,549.8C834.7,549.8 835.3,549.8 836.0,549.8C836.7,549.7 837.3,549.6 838.0,549.6C838.7,549.5 839.3,549.4 840.0,549.4C840.7,549.4 841.3,549.5 842.0,549.6C842.7,549.6 843.3,549.7 844.0,549.8C844.7,549.8 845.3,549.8 846.0,549.7C846.7,549.7 847.3,549.5 848.0,549.5C848.7,549.4 849.3,549.3 850.0,549.3C850.7,549.2 851.3,549.2 852.0,549.2C852.7,549.2 853.3,549.2 854.0,549.2C854.7,549.2 855.3,549.2 856.0,549.2C856.7,549.2 857.3,549.3 858.0,549.3C858.7,549.4 859.3,549.4 860.0,549.4C860.7,549.4 861.3,549.4 862.0,549.3C862.7,549.3 863.3,549.2 864.0,549.2C864.7,549.2 865.3,549.2 866.0,549.2C866.7,549.2 867.3,549.2 868.0,549.2C868.7,549.2 869.3,549.2 870.0,549.2C870.7,549.2 871.3,549.3 872.0,549.3C872.7,549.3 873.3,549.3 874.0,549.3C874.7,549.3 875.3,549.3 876.0,549.4C876.7,549.4 877.3,549.4 878.0,549.4C878.7,549.4 879.3,549.5 880.0,549.4C880.7,549.4 881.3,549.4 882.0,549.4C882.7,549.3 883.3,549.3 884.0,549.3C884.7,549.2 885.3,549.2 886.0,549.2C886.7,549.2 887.3,549.2 888.0,549.2C888.7,549.2 889.3,549.1 890.0,549.2C890.7,549.2 891.3,549.3 892.0,549.3C892.7,549.4 893.3,549.5 894.0,549.5C894.7,549.5 895.3,549.5 896.0,549.5C896.7,549.5 897.3,549.5 898.0,549.4C898.7,549.4 899.3,549.3 900.0,549.3C900.7,549.3 901.3,549.4 902.0,549.4C902.7,549.4 903.3,549.5 904.0,549.5C904.7,549.5 905.3,549.6 906.0,549.6C906.7,549.6 907.3,549.5 908.0,549.5C908.7,549.5 909.3,549.5 910.0,549.5C910.7,549.5 911.3,549.4 912.0,549.4C912.7,549.3 913.3,549.3 914.0,549.2C914.7,549.2 915.3,549.2 916.0,549.2C916.7,549.2 917.3,549.2 918.0,549.2C918.7,549.2 919.3,549.2 920.0,549.2C920.7,549.1 921.3,549.1 922.0,549.1C922.7,549.1 923.3,549.1 924.0,549.1C924.7,549.1 925.3,549.1 926.0,549.1C926.7,549.1 927.3,549.1 928.0,549.1C928.7,549.1 929.3,549.1 930.0,549.1C930.7,549.1 931.3,549.1 932.0,549.1C932.7,549.1 933.3,549.1 934.0,549.1C934.7,549.1 935.3,549.0 936.0,549.0C936.7,549.0 937.3,549.0 938.0,549.0C938.7,549.0 939.3,549.0 940.0,549.0C940.7,549.0 941.3,549.0 942.0,549.0C942.7,549.0 943.3,548.9 944.0,548.9C944.7,548.9 945.3,549.0 946.0,549.0C946.7,549.0 947.3,549.0 948.0,549.0C948.7,549.0 949.3,549.1 950.0,549.0C950.7,549.0 951.3,549.0 952.0,548.9C952.7,548.9 953.3,548.9 954.0,548.8C954.7,548.8 955.3,548.8 956.0,548.8C956.7,548.7 957.3,548.7 958.0,548.7C958.7,548.7 959.3,548.7 960.0,548.7C960.7,548.7 961.3,548.7 962.0,548.7C962.7,548.7 963.3,548.7 964.0,548.7C964.7,548.7 965.3,548.7 966.0,548.7C966.7,548.7 967.3,548.6 968.0,548.6C968.7,548.5 969.3,548.5 970.0,548.5C970.7,548.4 971.3,548.5 972.0,548.5C972.7,548.5 973.3,548.4 974.0,548.4C974.7,548.4 975.3,548.5 976.0,548.5C976.7,548.5 977.3,548.6 978.0,548.6C978.7,548.6 979.3,548.7 980.0,548.7C980.7,548.7 981.3,548.6 982.0,548.6C982.7,548.6 983.3,548.5 984.0,548.5C984.7,548.5 985.3,548.4 986.0,548.4C986.7,548.4 987.3,548.4 988.0,548.4C988.7,548.4 989.3,548.4 990.0,548.4C990.7,548.4 991.3,548.3 992.0,548.3C992.7,548.2 993.3,548.2 994.0,548.1C994.7,548.1 995.3,548.1 996.0,548.1C996.7,548.1 997.3,548.1 998.0,548.1C998.7,548.2 999.3,548.2 1000.0,548.2C1000.7,548.2 1001.3,548.2 1002.0,548.2C1002.7,548.2 1003.3,548.2 1004.0,548.2C1004.7,548.2 1005.3,548.2 1006.0,548.2C1006.7,548.1 1007.3,548.1 1008.0,548.0C1008.7,548.0 1009.3,547.9 1010.0,547.9C1010.7,547.9 1011.3,548.0 1012.0,548.0C1012.7,548.0 1013.3,548.1 1014.0,548.1C1014.7,548.1 1015.3,548.1 1016.0,548.1C1016.7,548.1 1017.3,548.1 1018.0,548.1C1018.7,548.1 1019.3,548.1 1020.0,548.1C1020.7,548.1 1021.3,548.0 1022.0,547.9C1022.7,547.9 1023.3,547.8 1024.0,547.8C1024.7,547.8 1025.3,547.8 1026.0,547.8C1026.7,547.8 1027.3,547.8 1028.0,547.9C1028.7,547.9 1029.3,548.0 1030.0,548.0C1030.7,548.0 1031.3,547.9 1032.0,547.9C1032.7,547.9 1033.3,547.9 1034.0,547.9C1034.7,547.8 1035.3,547.8 1036.0,547.8C1036.7,547.8 1037.3,547.9 1038.0,547.9C1038.7,547.9 1039.3,547.9 1040.0,547.9C1040.7,547.9 1041.3,547.8 1042.0,547.8C1042.7,547.8 1043.3,547.7 1044.0,547.7C1044.7,547.7 1045.3,547.7 1046.0,547.7C1046.7,547.7 1047.3,547.7 1048.0,547.7C1048.7,547.7 1049.3,547.8 1050.0,547.8C1050.7,547.8 1051.3,547.8 1052.0,547.8C1052.7,547.8 1053.3,547.8 1054.0,547.7C1054.7,547.7 1055.3,547.7 1056.0,547.7C1056.7,547.6 1057.3,547.5 1058.0,547.5C1058.7,547.4 1059.3,547.4 1060.0,547.3C1060.7,547.3 1061.3,547.3 1062.0,547.3C1062.7,547.3 1063.3,547.3 1064.0,547.3C1064.7,547.3 1065.3,547.3 1066.0,547.3C1066.7,547.4 1067.3,547.4 1068.0,547.4C1068.7,547.5 1069.3,547.5 1070.0,547.5C1070.7,547.6 1071.3,547.6 1072.0,547.6C1072.7,547.6 1073.3,547.6 1074.0,547.6C1074.7,547.6 1075.3,547.6 1076.0,547.5C1076.7,547.5 1077.3,547.4 1078.0,547.4C1078.7,547.3 1079.3,547.2 1080.0,547.2C1080.7,547.2 1081.3,547.2 1082.0,547.2C1082.7,547.2 1083.3,547.2 1084.0,547.2C1084.7,547.2 1085.3,547.3 1086.0,547.3C1086.7,547.3 1087.3,547.3 1088.0,547.3C1088.7,547.3 1089.3,547.3 1090.0,547.3C1090.7,547.2 1091.3,547.2 1092.0,547.2C1092.7,547.2 1093.3,547.1 1094.0,547.1C1094.7,547.1 1095.3,547.1 1096.0,547.1C1096.7,547.1 1097.3,547.1 1098.0,547.0C1098.7,547.0 1099.3,547.0 1100.0,547.0C1100.7,547.0 1101.3,547.0 1102.0,546.9C1102.7,546.9 1103.3,546.9 1104.0,546.9C1104.7,546.8 1105.3,546.8 1106.0,546.8C1106.7,546.8 1107.3,546.8 1108.0,546.7C1108.7,546.7 1109.3,546.7 1110.0,546.7C1110.7,546.7 1111.3,546.6 1112.0,546.6C1112.7,546.6 1113.3,546.6 1114.0,546.6C1114.7,546.6 1115.3,546.6 1116.0,546.5C1116.7,546.5 1117.3,546.4 1118.0,546.4C1118.7,546.4 1119.3,546.3 1120.0,546.3C1120.7,546.2 1121.3,546.2 1122.0,546.2C1122.7,546.2 1123.3,546.2 1124.0,546.2C1124.7,546.1 1125.3,546.1 1126.0,546.1C1126.7,546.1 1127.3,546.1 1128.0,546.1C1128.7,546.1 1129.3,546.2 1130.0,546.1C1130.7,546.1 1131.3,546.0 1132.0,546.0C1132.7,545.9 1133.3,545.8 1134.0,545.8C1134.7,545.8 1135.3,545.8 1136.0,545.8C1136.7,545.8 1137.3,545.8 1138.0,545.9C1138.7,545.9 1139.3,545.9 1140.0,545.9C1140.7,546.0 1141.3,546.0 1142.0,546.0C1142.7,546.0 1143.3,546.0 1144.0,546.0C1144.7,546.0 1145.3,546.0 1146.0,545.9C1146.7,545.9 1147.3,545.9 1148.0,545.8C1148.7,545.8 1149.3,545.8 1150.0,545.7C1150.7,545.7 1151.3,545.7 1152.0,545.7C1152.7,545.7 1153.3,545.7 1154.0,545.7C1154.7,545.7 1155.3,545.7 1156.0,545.7C1156.7,545.7 1157.3,545.8 1158.0,545.8C1158.7,545.8 1159.3,545.9 1160.0,545.9C1160.7,545.9 1161.3,545.8 1162.0,545.8C1162.7,545.7 1163.3,545.7 1164.0,545.6C1164.7,545.6 1165.3,545.6 1166.0,545.5C1166.7,545.5 1167.3,545.5 1168.0,545.5C1168.7,545.5 1169.3,545.5 1170.0,545.5C1170.7,545.5 1171.3,545.5 1172.0,545.5C1172.7,545.5 1173.3,545.5 1174.0,545.6C1174.7,545.6 1175.3,545.6 1176.0,545.6C1176.7,545.6 1177.3,545.6 1178.0,545.6C1178.7,545.6 1179.3,545.7 1180.0,545.7C1180.7,545.6 1181.3,545.6 1182.0,545.5C1182.7,545.5 1183.3,545.4 1184.0,545.4C1184.7,545.4 1185.6,545.3 1186.0,545.3C1186.4,545.3 1186.4,545.5 1186.5,545.5"/>
<path fill="none" stroke="#0000ff" stroke-width="2.45" stroke-linejoin="round" stroke-linecap="round" d="M34.9,675.5C36.7,675.7 42.8,676.9 45.5,676.6C48.2,676.3 49.4,674.3 51.2,673.7C53.0,673.1 54.8,674.0 56.1,672.9C57.4,671.8 58.1,670.3 59.0,667.2C59.9,664.1 60.7,657.4 61.4,654.2C62.1,651.0 62.7,649.4 63.3,648.0C63.9,646.6 64.5,646.2 65.1,646.0C65.7,645.8 66.3,646.2 66.8,646.6C67.3,647.0 67.4,646.3 68.3,648.4C69.2,650.5 71.0,655.7 72.4,659.0C73.8,662.3 74.9,665.4 76.5,668.0C78.1,670.6 79.8,673.1 82.2,674.5C84.7,675.9 87.9,676.1 91.2,676.6C94.5,677.1 98.5,677.5 101.8,677.4C105.1,677.3 107.8,675.9 110.8,675.8C113.8,675.7 116.6,676.3 119.7,676.6C122.8,676.9 126.5,677.5 129.5,677.4C132.4,677.3 135.2,677.6 137.4,676.3C139.6,674.9 140.9,671.3 142.4,669.3C143.9,667.3 145.5,666.5 146.5,664.3C147.5,662.1 147.6,660.9 148.2,656.1C148.8,651.3 149.6,640.9 150.2,635.4C150.8,629.9 151.3,625.5 151.9,623.0C152.5,620.5 152.9,620.3 153.5,620.6C154.1,620.9 154.8,621.3 155.6,624.7C156.4,628.1 157.1,635.6 158.1,641.2C159.1,646.8 160.3,653.8 161.4,658.5C162.5,663.2 163.5,666.6 164.7,669.3C165.9,672.0 167.4,673.4 168.8,674.6C170.2,675.8 171.1,676.3 172.9,676.3C174.7,676.3 177.0,674.5 179.5,674.6C182.0,674.7 184.4,676.2 187.8,676.7C191.2,677.2 195.7,677.6 200.2,677.5C204.7,677.4 210.2,676.4 215.0,676.3C219.8,676.2 225.7,677.4 229.1,677.1C232.5,676.8 233.5,674.9 235.7,674.7C237.9,674.5 240.4,676.3 242.2,676.0C244.0,675.7 244.7,674.1 246.3,672.7C247.9,671.3 250.4,669.6 251.6,667.8C252.8,666.0 253.0,665.8 253.7,662.1C254.4,658.4 255.2,649.6 255.7,645.8C256.2,641.9 256.5,640.4 256.8,639.0C257.1,637.6 257.4,637.3 257.7,637.2C258.0,637.1 258.3,637.6 258.7,638.2C259.1,638.8 259.2,638.0 259.8,640.9C260.4,643.8 261.3,650.9 262.2,655.6C263.1,660.4 263.9,666.4 265.1,669.4C266.3,672.4 267.3,672.7 269.2,673.9C271.1,675.1 274.3,676.6 276.5,676.8C278.7,677.0 280.3,675.4 282.2,675.3C284.1,675.2 286.3,676.7 287.9,676.4C289.5,676.1 290.8,674.6 292.0,673.5C293.2,672.4 294.2,670.1 295.3,669.8C296.4,669.5 297.4,670.9 298.5,671.9C299.6,672.9 300.3,675.1 301.8,675.6C303.3,676.1 304.9,674.9 307.5,675.1C310.1,675.3 314.9,676.9 317.3,676.6C319.7,676.3 320.3,673.6 321.8,673.5C323.3,673.4 324.9,675.9 326.2,675.8C327.5,675.7 328.7,673.7 329.9,673.1C331.1,672.5 332.3,673.8 333.2,672.3C334.1,670.8 334.6,666.2 335.2,664.2C335.8,662.2 336.2,660.6 336.8,660.5C337.4,660.4 338.0,661.2 338.9,663.3C339.8,665.4 341.1,670.9 342.1,673.1C343.1,675.3 343.8,676.1 345.0,676.4C346.2,676.7 347.4,674.8 349.1,674.9C350.8,675.0 353.2,677.2 355.2,677.0C357.2,676.8 359.4,674.0 360.9,673.5C362.4,673.0 363.0,674.6 364.2,673.9C365.4,673.2 367.0,669.9 368.2,669.5C369.4,669.1 370.3,670.4 371.5,671.5C372.7,672.6 373.8,675.2 375.6,676.0C377.4,676.8 379.7,676.2 382.1,676.4C384.6,676.6 388.0,677.2 390.3,677.2C392.6,677.2 394.5,676.5 396.0,676.4C397.5,676.3 398.2,677.0 399.2,676.6C400.2,676.2 401.0,674.7 402.1,673.9C403.2,673.1 404.8,672.0 405.8,671.9C406.8,671.8 407.4,672.8 408.2,673.5C409.0,674.2 409.2,675.7 410.6,676.4C412.0,677.1 414.8,677.7 416.4,677.6C418.0,677.5 419.0,676.1 420.4,676.0C421.8,675.9 423.4,677.0 425.0,677.2C426.6,677.4 428.8,677.2 430.0,677.2C431.2,677.2 431.3,677.2 432.0,677.2C432.7,677.2 433.3,677.1 434.0,677.1C434.7,677.1 435.3,677.1 436.0,677.2C436.7,677.2 437.3,677.2 438.0,677.3C438.7,677.3 439.3,677.4 440.0,677.4C440.7,677.4 441.3,677.3 442.0,677.3C442.7,677.3 443.3,677.2 444.0,677.2C444.7,677.2 445.3,677.2 446.0,677.2C446.7,677.1 447.3,677.1 448.0,677.1C448.7,677.1 449.3,677.1 450.0,677.1C450.7,677.1 451.3,677.2 452.0,677.2C452.7,677.3 453.3,677.3 454.0,677.4C454.7,677.4 455.3,677.5 456.0,677.5C456.7,677.6 457.3,677.7 458.0,677.7C458.7,677.8 459.3,677.9 460.0,678.0C460.7,678.0 461.3,678.0 462.0,677.9C462.7,677.8 463.3,678.0 464.0,677.6C464.7,677.2 465.3,676.5 466.0,675.6C466.7,674.7 467.3,672.5 468.0,672.3C468.7,672.1 469.3,673.6 470.0,674.4C470.7,675.2 471.3,676.6 472.0,677.1C472.7,677.6 473.3,677.3 474.0,677.4C474.7,677.4 475.3,677.3 476.0,677.3C476.7,677.4 477.3,677.4 478.0,677.5C478.7,677.5 479.3,677.6 480.0,677.6C480.7,677.6 481.3,677.5 482.0,677.5C482.7,677.5 483.3,677.4 484.0,677.4C484.7,677.4 485.3,677.3 486.0,677.3C486.7,677.3 487.3,677.3 488.0,677.3C488.7,677.3 489.3,677.2 490.0,677.2C490.7,677.2 491.3,677.2 492.0,677.2C492.7,677.2 493.3,677.2 494.0,677.2C494.7,677.2 495.3,677.2 496.0,677.2C496.7,677.2 497.3,677.2 498.0,677.2C498.7,677.3 499.3,677.2 500.0,677.3C500.7,677.3 501.3,677.5 502.0,677.6C502.7,677.7 503.3,677.8 504.0,677.9C504.7,677.9 505.3,678.0 506.0,678.0C506.7,678.0 507.3,678.0 508.0,678.0C508.7,677.9 509.3,678.0 510.0,677.8C510.7,677.6 511.3,677.4 512.0,676.8C512.7,676.3 513.3,674.9 514.0,674.6C514.7,674.4 515.3,675.0 516.0,675.4C516.7,675.8 517.3,676.9 518.0,677.1C518.7,677.3 519.3,676.7 520.0,676.6C520.7,676.5 521.3,676.3 522.0,676.4C522.7,676.5 523.3,677.0 524.0,677.1C524.7,677.3 525.3,677.3 526.0,677.3C526.7,677.3 527.3,677.4 528.0,677.4C528.7,677.4 529.3,677.4 530.0,677.4C530.7,677.5 531.3,677.5 532.0,677.6C532.7,677.6 533.3,677.6 534.0,677.7C534.7,677.7 535.3,677.7 536.0,677.8C536.7,677.8 537.3,677.8 538.0,677.8C538.7,677.8 539.3,677.8 540.0,677.9C540.7,677.9 541.3,677.9 542.0,677.9C542.7,677.9 543.3,677.9 544.0,678.0C544.7,678.0 545.3,678.0 546.0,678.0C546.7,678.0 547.3,678.0 548.0,678.0C548.7,678.0 549.3,678.1 550.0,678.0C550.7,678.0 551.3,677.8 552.0,677.7C552.7,677.6 553.3,677.4 554.0,677.4C554.7,677.3 555.3,677.3 556.0,677.3C556.7,677.4 557.3,677.5 558.0,677.5C558.7,677.6 559.3,677.7 560.0,677.8C560.7,677.8 561.3,677.8 562.0,677.8C562.7,677.8 563.3,677.8 564.0,677.8C564.7,677.8 565.3,677.8 566.0,677.8C566.7,677.8 567.3,677.7 568.0,677.7C568.7,677.7 569.3,677.7 570.0,677.7C570.7,677.6 571.3,677.6 572.0,677.5C572.7,677.5 573.3,677.4 574.0,677.4C574.7,677.4 575.3,677.4 576.0,677.4C576.7,677.4 577.3,677.5 578.0,677.5C578.7,677.6 579.3,677.6 580.0,677.6C580.7,677.6 581.3,677.5 582.0,677.5C582.7,677.4 583.3,677.3 584.0,677.3C584.7,677.3 585.3,677.4 586.0,677.4C586.7,677.5 587.3,677.7 588.0,677.8C588.7,677.9 589.3,678.1 590.0,678.1C590.7,678.2 591.3,678.1 592.0,678.1C592.7,678.1 593.3,678.1 594.0,678.1C594.7,678.0 595.3,678.0 596.0,678.0C596.7,678.0 597.3,677.9 598.0,677.9C598.7,677.8 599.3,677.8 600.0,677.7C600.7,677.7 601.3,677.7 602.0,677.6C602.7,677.6 603.3,677.5 604.0,677.5C604.7,677.5 605.3,677.6 606.0,677.6C606.7,677.7 607.3,677.8 608.0,677.9C608.7,677.9 609.3,678.1 610.0,678.1C610.7,678.1 611.3,678.0 612.0,678.0C612.7,677.9 613.3,677.9 614.0,677.8C614.7,677.8 615.3,677.8 616.0,677.8C616.7,677.9 617.3,677.9 618.0,678.0C618.7,678.0 619.3,678.1 620.0,678.1C620.7,678.1 621.3,678.1 622.0,678.1C622.7,678.1 623.3,678.1 624.0,678.1C624.7,678.1 625.3,678.0 626.0,678.0C626.7,678.0 627.3,677.9 628.0,677.9C628.7,677.8 629.3,677.8 630.0,677.5C630.7,677.3 631.3,676.8 632.0,676.5C632.7,676.2 633.3,675.6 634.0,675.7C634.7,675.8 635.3,676.5 636.0,676.9C636.7,677.2 637.3,677.5 638.0,677.7C638.7,677.8 639.3,677.8 640.0,677.8C640.7,677.8 641.3,677.8 642.0,677.8C642.7,677.7 643.3,677.7 644.0,677.7C644.7,677.7 645.3,677.6 646.0,677.6C646.7,677.6 647.3,677.5 648.0,677.5C648.7,677.5 649.3,677.4 650.0,677.4C650.7,677.4 651.3,677.4 652.0,677.5C652.7,677.5 653.3,677.5 654.0,677.5C654.7,677.6 655.3,677.6 656.0,677.7C656.7,677.7 657.3,677.8 658.0,677.9C658.7,677.9 659.3,678.1 660.0,678.1C660.7,678.1 661.3,677.9 662.0,677.8C662.7,677.7 663.3,677.5 664.0,677.5C664.7,677.4 665.3,677.3 666.0,677.3C666.7,677.3 667.3,677.3 668.0,677.3C668.7,677.3 669.3,677.3 670.0,677.3C670.7,677.3 671.3,677.5 672.0,677.5C672.7,677.5 673.3,677.5 674.0,677.3C674.7,677.2 675.3,676.9 676.0,676.8C676.7,676.7 677.3,676.8 678.0,676.8C678.7,676.7 679.3,676.5 680.0,676.5C680.7,676.5 681.3,676.8 682.0,677.0C682.7,677.2 683.3,677.5 684.0,677.7C684.7,677.8 685.3,677.8 686.0,677.8C686.7,677.8 687.3,677.8 688.0,677.8C688.7,677.8 689.3,677.8 690.0,677.8C690.7,677.7 691.3,677.7 692.0,677.7C692.7,677.7 693.3,677.7 694.0,677.7C694.7,677.7 695.3,677.7 696.0,677.8C696.7,677.8 697.3,677.9 698.0,678.0C698.7,678.1 699.3,678.3 700.0,678.3C700.7,678.3 701.3,678.1 702.0,678.0C702.7,677.9 703.3,677.7 704.0,677.6C704.7,677.6 705.3,677.5 706.0,677.5C706.7,677.5 707.3,677.6 708.0,677.6C708.7,677.6 709.3,677.7 710.0,677.7C710.7,677.7 711.3,677.6 712.0,677.6C712.7,677.6 713.3,677.5 714.0,677.5C714.7,677.5 715.3,677.5 716.0,677.6C716.7,677.6 717.3,677.7 718.0,677.7C718.7,677.8 719.3,677.9 720.0,677.9C720.7,677.9 721.3,677.8 722.0,677.8C722.7,677.7 723.3,677.6 724.0,677.6C724.7,677.6 725.3,677.6 726.0,677.6C726.7,677.5 727.3,677.6 728.0,677.6C728.7,677.6 729.3,677.6 730.0,677.6C730.7,677.6 731.3,677.7 732.0,677.8C732.7,677.8 733.3,677.9 734.0,677.9C734.7,677.9 735.3,677.9 736.0,677.9C736.7,677.9 737.3,677.8 738.0,677.7C738.7,677.7 739.3,677.6 740.0,677.6C740.7,677.5 741.3,677.6 742.0,677.7C742.7,677.7 743.3,677.7 744.0,677.7C744.7,677.8 745.3,677.8 746.0,677.9C746.7,677.9 747.3,677.9 748.0,678.0C748.7,678.0 749.3,678.2 750.0,678.1C750.7,678.1 751.3,677.9 752.0,677.8C752.7,677.7 753.3,677.6 754.0,677.5C754.7,677.4 755.3,677.3 756.0,677.3C756.7,677.3 757.3,677.3 758.0,677.3C758.7,677.3 759.3,677.3 760.0,677.3C760.7,677.3 761.3,677.4 762.0,677.3C762.7,677.2 763.3,677.1 764.0,676.9C764.7,676.6 765.3,676.0 766.0,676.0C766.7,676.0 767.3,676.4 768.0,676.7C768.7,677.0 769.3,677.6 770.0,677.8C770.7,678.0 771.3,677.9 772.0,677.9C772.7,677.9 773.3,677.9 774.0,677.8C774.7,677.8 775.3,677.8 776.0,677.7C776.7,677.7 777.3,677.6 778.0,677.6C778.7,677.5 779.3,677.4 780.0,677.4C780.7,677.4 781.3,677.4 782.0,677.5C782.7,677.5 783.3,677.5 784.0,677.5C784.7,677.5 785.3,677.5 786.0,677.5C786.7,677.5 787.3,677.4 788.0,677.4C788.7,677.4 789.3,677.3 790.0,677.3C790.7,677.4 791.3,677.4 792.0,677.5C792.7,677.5 793.3,677.5 794.0,677.6C794.7,677.6 795.3,677.6 796.0,677.5C796.7,677.5 797.3,677.4 798.0,677.4C798.7,677.3 799.3,677.2 800.0,677.2C800.7,677.2 801.3,677.4 802.0,677.5C802.7,677.5 803.3,677.6 804.0,677.7C804.7,677.8 805.3,677.8 806.0,677.9C806.7,677.9 807.3,677.9 808.0,678.0C808.7,678.0 809.3,678.0 810.0,678.0C810.7,678.0 811.3,678.0 812.0,678.1C812.7,678.1 813.3,678.1 814.0,678.1C814.7,678.1 815.3,678.1 816.0,678.0C816.7,678.0 817.3,678.0 818.0,677.9C818.7,677.9 819.3,677.9 820.0,677.9C820.7,677.9 821.3,677.9 822.0,677.9C822.7,678.0 823.3,678.0 824.0,678.0C824.7,678.0 825.3,678.0 826.0,677.9C826.7,677.8 827.3,677.6 828.0,677.5C828.7,677.4 829.3,677.2 830.0,677.1C830.7,677.1 831.3,677.2 832.0,677.2C832.7,677.3 833.3,677.3 834.0,677.3C834.7,677.4 835.3,677.4 836.0,677.5C836.7,677.6 837.3,677.7 838.0,677.8C838.7,677.9 839.3,678.0 840.0,678.1C840.7,678.1 841.3,678.0 842.0,678.0C842.7,678.0 843.3,677.9 844.0,677.9C844.7,677.9 845.3,677.8 846.0,677.8C846.7,677.7 847.3,677.7 848.0,677.6C848.7,677.6 849.3,677.5 850.0,677.5C850.7,677.5 851.3,677.6 852.0,677.6C852.7,677.7 853.3,677.7 854.0,677.7C854.7,677.8 855.3,677.8 856.0,677.8C856.7,677.7 857.3,677.7 858.0,677.7C858.7,677.7 859.3,677.6 860.0,677.6C860.7,677.6 861.3,677.6 862.0,677.7C862.7,677.7 863.3,677.7 864.0,677.7C864.7,677.7 865.3,677.7 866.0,677.7C866.7,677.6 867.3,677.6 868.0,677.5C868.7,677.5 869.3,677.5 870.0,677.4C870.7,677.4 871.3,677.4 872.0,677.4C872.7,677.4 873.3,677.4 874.0,677.4C874.7,677.4 875.3,677.4 876.0,677.4C876.7,677.4 877.3,677.4 878.0,677.5C878.7,677.5 879.3,677.5 880.0,677.5C880.7,677.5 881.3,677.5 882.0,677.4C882.7,677.4 883.3,677.4 884.0,677.4C884.7,677.4 885.3,677.4 886.0,677.4C886.7,677.4 887.3,677.4 888.0,677.4C888.7,677.4 889.3,677.4 890.0,677.5C890.7,677.5 891.3,677.5 892.0,677.6C892.7,677.6 893.3,677.7 894.0,677.7C894.7,677.7 895.3,677.7 896.0,677.7C896.7,677.7 897.3,677.6 898.0,677.5C898.7,677.5 899.3,677.5 900.0,677.4C900.7,677.4 901.3,677.3 902.0,677.3C902.7,677.3 903.3,677.2 904.0,677.2C904.7,677.2 905.3,677.2 906.0,677.1C906.7,677.1 907.3,677.1 908.0,677.1C908.7,677.1 909.3,677.1 910.0,677.1C910.7,677.1 911.3,677.1 912.0,677.1C912.7,677.0 913.3,677.0 914.0,677.0C914.7,677.0 915.3,677.0 916.0,677.1C916.7,677.1 917.3,677.1 918.0,677.2C918.7,677.2 919.3,677.2 920.0,677.2C920.7,677.2 921.3,677.1 922.0,677.1C922.7,677.1 923.3,677.0 924.0,677.0C924.7,676.9 925.3,676.9 926.0,676.9C926.7,676.9 927.3,676.9 928.0,676.8C928.7,676.8 929.3,676.8 930.0,676.8C930.7,676.8 931.3,676.7 932.0,676.7C932.7,676.7 933.3,676.6 934.0,676.6C934.7,676.6 935.3,676.6 936.0,676.6C936.7,676.7 937.3,676.7 938.0,676.8C938.7,676.8 939.3,676.9 940.0,676.9C940.7,676.9 941.3,676.8 942.0,676.8C942.7,676.7 943.3,676.7 944.0,676.6C944.7,676.6 945.3,676.5 946.0,676.5C946.7,676.5 947.3,676.4 948.0,676.4C948.7,676.4 949.3,676.4 950.0,676.3C950.7,676.3 951.3,676.3 952.0,676.3C952.7,676.2 953.3,676.2 954.0,676.2C954.7,676.2 955.3,676.1 956.0,676.1C956.7,676.1 957.3,676.1 958.0,676.1C958.7,676.1 959.3,676.1 960.0,676.0C960.7,676.0 961.3,676.0 962.0,676.0C962.7,676.0 963.3,676.0 964.0,676.0C964.7,676.0 965.3,676.0 966.0,676.0C966.7,676.0 967.3,676.1 968.0,676.1C968.7,676.1 969.3,676.2 970.0,676.2C970.7,676.1 971.3,676.1 972.0,676.0C972.7,676.0 973.3,675.9 974.0,675.9C974.7,675.8 975.3,675.8 976.0,675.8C976.7,675.7 977.3,675.7 978.0,675.7C978.7,675.7 979.3,675.6 980.0,675.6C980.7,675.6 981.3,675.7 982.0,675.7C982.7,675.7 983.3,675.7 984.0,675.7C984.7,675.7 985.3,675.7 986.0,675.7C986.7,675.7 987.3,675.6 988.0,675.6C988.7,675.6 989.3,675.5 990.0,675.5C990.7,675.5 991.3,675.6 992.0,675.6C992.7,675.7 993.3,675.7 994.0,675.7C994.7,675.8 995.3,675.7 996.0,675.7C996.7,675.6 997.3,675.5 998.0,675.5C998.7,675.4 999.3,675.3 1000.0,675.3C1000.7,675.2 1001.3,675.3 1002.0,675.3C1002.7,675.3 1003.3,675.3 1004.0,675.3C1004.7,675.4 1005.3,675.4 1006.0,675.4C1006.7,675.4 1007.3,675.4 1008.0,675.4C1008.7,675.4 1009.3,675.4 1010.0,675.4C1010.7,675.4 1011.3,675.3 1012.0,675.3C1012.7,675.2 1013.3,675.2 1014.0,675.2C1014.7,675.1 1015.3,675.1 1016.0,675.1C1016.7,675.1 1017.3,675.2 1018.0,675.2C1018.7,675.2 1019.3,675.3 1020.0,675.3C1020.7,675.3 1021.3,675.2 1022.0,675.1C1022.7,675.1 1023.3,675.0 1024.0,675.0C1024.7,675.0 1025.3,674.9 1026.0,674.9C1026.7,674.8 1027.3,674.8 1028.0,674.8C1028.7,674.8 1029.3,674.7 1030.0,674.7C1030.7,674.7 1031.3,674.7 1032.0,674.7C1032.7,674.7 1033.3,674.7 1034.0,674.7C1034.7,674.7 1035.3,674.7 1036.0,674.6C1036.7,674.6 1037.3,674.6 1038.0,674.5C1038.7,674.5 1039.3,674.4 1040.0,674.4C1040.7,674.4 1041.3,674.4 1042.0,674.4C1042.7,674.4 1043.3,674.5 1044.0,674.5C1044.7,674.5 1045.3,674.5 1046.0,674.5C1046.7,674.4 1047.3,674.4 1048.0,674.4C1048.7,674.3 1049.3,674.3 1050.0,674.3C1050.7,674.3 1051.3,674.4 1052.0,674.4C1052.7,674.4 1053.3,674.5 1054.0,674.5C1054.7,674.5 1055.3,674.5 1056.0,674.5C1056.7,674.5 1057.3,674.5 1058.0,674.4C1058.7,674.4 1059.3,674.4 1060.0,674.4C1060.7,674.4 1061.3,674.3 1062.0,674.3C1062.7,674.2 1063.3,674.2 1064.0,674.2C1064.7,674.1 1065.3,674.1 1066.0,674.0C1066.7,674.0 1067.3,674.0 1068.0,673.9C1068.7,673.8 1069.3,673.7 1070.0,673.6C1070.7,673.5 1071.3,673.2 1072.0,673.1C1072.7,673.0 1073.3,673.0 1074.0,673.1C1074.7,673.2 1075.3,673.5 1076.0,673.6C1076.7,673.7 1077.3,673.7 1078.0,673.7C1078.7,673.7 1079.3,673.7 1080.0,673.7C1080.7,673.7 1081.3,673.6 1082.0,673.6C1082.7,673.6 1083.3,673.6 1084.0,673.6C1084.7,673.6 1085.3,673.6 1086.0,673.5C1086.7,673.5 1087.3,673.5 1088.0,673.5C1088.7,673.5 1089.3,673.5 1090.0,673.5C1090.7,673.5 1091.3,673.5 1092.0,673.6C1092.7,673.6 1093.3,673.6 1094.0,673.6C1094.7,673.7 1095.3,673.6 1096.0,673.6C1096.7,673.6 1097.3,673.5 1098.0,673.4C1098.7,673.3 1099.3,673.3 1100.0,673.2C1100.7,673.2 1101.3,673.2 1102.0,673.2C1102.7,673.2 1103.3,673.1 1104.0,673.1C1104.7,673.1 1105.3,673.2 1106.0,673.2C1106.7,673.2 1107.3,673.3 1108.0,673.4C1108.7,673.4 1109.3,673.5 1110.0,673.5C1110.7,673.5 1111.3,673.5 1112.0,673.3C1112.7,673.2 1113.3,672.9 1114.0,672.6C1114.7,672.4 1115.3,671.9 1116.0,671.9C1116.7,671.9 1117.3,672.4 1118.0,672.7C1118.7,672.9 1119.3,673.2 1120.0,673.3C1120.7,673.5 1121.3,673.3 1122.0,673.3C1122.7,673.3 1123.3,673.2 1124.0,673.2C1124.7,673.1 1125.3,673.1 1126.0,673.1C1126.7,673.1 1127.3,673.2 1128.0,673.2C1128.7,673.2 1129.3,673.3 1130.0,673.3C1130.7,673.3 1131.3,673.2 1132.0,673.2C1132.7,673.2 1133.3,673.2 1134.0,673.1C1134.7,673.1 1135.3,673.1 1136.0,673.1C1136.7,673.1 1137.3,673.1 1138.0,673.1C1138.7,673.1 1139.3,673.0 1140.0,672.9C1140.7,672.7 1141.3,672.2 1142.0,672.0C1142.7,671.9 1143.3,671.9 1144.0,672.0C1144.7,672.1 1145.3,672.6 1146.0,672.7C1146.7,672.9 1147.3,672.9 1148.0,672.9C1148.7,673.0 1149.3,672.9 1150.0,672.9C1150.7,672.9 1151.3,672.8 1152.0,672.8C1152.7,672.7 1153.3,672.7 1154.0,672.7C1154.7,672.6 1155.3,672.6 1156.0,672.6C1156.7,672.6 1157.3,672.6 1158.0,672.6C1158.7,672.6 1159.3,672.6 1160.0,672.6C1160.7,672.7 1161.3,672.7 1162.0,672.7C1162.7,672.8 1163.3,672.8 1164.0,672.9C1164.7,672.9 1165.3,672.9 1166.0,672.9C1166.7,672.9 1167.3,672.9 1168.0,672.9C1168.7,672.9 1169.3,672.9 1170.0,672.9C1170.7,672.9 1171.3,672.9 1172.0,672.9C1172.7,672.9 1173.3,672.9 1174.0,672.8C1174.7,672.8 1175.3,672.8 1176.0,672.8C1176.7,672.7 1177.3,672.7 1178.0,672.6C1178.7,672.6 1179.3,672.5 1180.0,672.5C1180.7,672.5 1181.3,672.5 1182.0,672.5C1182.7,672.5 1183.3,672.6 1184.0,672.6C1184.7,672.6 1185.6,672.6 1186.0,672.6C1186.4,672.6 1186.4,672.5 1186.5,672.5"/>
<path fill="none" stroke="#ff0000" stroke-width="2.45" stroke-linejoin="round" stroke-linecap="round" d="M34.9,805.4C36.7,805.6 42.9,806.6 45.5,806.5C48.1,806.4 48.8,805.1 50.4,804.6C52.0,804.1 54.1,804.4 55.3,803.4C56.5,802.4 57.0,801.2 57.7,798.5C58.4,795.8 58.8,792.0 59.4,787.1C60.0,782.2 60.7,773.6 61.4,769.2C62.1,764.8 62.8,762.3 63.4,760.6C64.0,758.9 64.5,758.8 65.2,759.0C66.0,759.2 67.0,759.4 67.9,761.8C68.8,764.2 69.8,769.0 70.8,773.2C71.8,777.4 72.8,783.0 74.0,787.1C75.2,791.2 76.6,795.0 78.1,797.7C79.6,800.4 80.8,802.0 83.0,803.4C85.2,804.8 88.1,805.3 91.2,805.9C94.3,806.5 98.8,806.8 101.8,806.7C104.8,806.6 106.1,805.3 109.1,805.2C112.1,805.1 116.3,806.0 119.7,806.3C123.1,806.5 126.6,806.8 129.5,806.7C132.4,806.6 135.2,806.1 137.0,805.5C138.8,804.9 139.0,804.4 140.0,803.0C141.0,801.6 142.0,798.7 143.0,797.0C144.0,795.3 145.2,795.0 146.0,793.0C146.8,791.0 147.4,789.7 148.0,785.0C148.6,780.3 149.0,772.5 149.5,765.0C150.0,757.5 150.5,745.8 151.0,740.0C151.5,734.2 152.0,732.0 152.5,730.0C153.0,728.0 153.3,728.0 153.8,728.3C154.3,728.6 154.9,728.9 155.5,732.0C156.1,735.1 156.8,741.5 157.5,747.0C158.2,752.5 158.8,758.7 159.5,765.0C160.2,771.3 161.1,779.5 162.0,785.0C162.9,790.5 163.8,794.9 165.0,798.0C166.2,801.1 167.8,802.3 169.0,803.5C170.2,804.7 171.3,805.4 172.5,805.0C173.7,804.6 174.8,802.2 176.0,801.0C177.2,799.8 178.2,798.0 179.5,798.0C180.8,798.0 182.4,799.9 184.0,801.0C185.6,802.1 186.3,803.6 189.0,804.5C191.7,805.4 195.7,806.3 200.0,806.5C204.3,806.7 210.0,805.5 215.0,805.5C220.0,805.5 226.6,806.8 230.0,806.5C233.4,806.2 233.7,803.9 235.7,803.7C237.7,803.5 240.4,805.5 242.2,805.4C244.0,805.3 244.9,803.9 246.3,802.9C247.7,801.9 249.7,801.0 250.8,799.6C252.0,798.2 252.4,797.4 253.2,794.8C253.9,792.2 254.7,786.8 255.3,784.2C255.9,781.6 256.2,780.1 256.6,779.0C257.0,777.9 257.3,777.7 257.7,777.6C258.1,777.5 258.6,778.0 259.0,778.5C259.4,779.0 259.6,778.6 260.2,780.9C260.8,783.2 261.8,788.9 262.6,792.3C263.4,795.7 264.0,799.3 265.1,801.3C266.2,803.3 267.3,803.2 269.2,804.1C271.1,805.0 274.3,806.4 276.5,806.6C278.7,806.8 280.2,805.5 282.2,805.4C284.2,805.3 287.1,806.5 288.7,805.8C290.3,805.1 291.1,803.0 292.0,801.3C292.9,799.6 293.4,796.8 294.0,795.5C294.6,794.2 294.8,793.6 295.3,793.5C295.8,793.4 296.3,794.2 296.8,795.0C297.3,795.8 297.7,796.5 298.5,798.0C299.3,799.5 300.3,802.6 301.8,803.7C303.3,804.8 305.2,804.0 307.5,804.4C309.8,804.8 313.2,806.0 315.6,806.0C318.1,806.0 320.6,804.8 322.2,804.7C323.8,804.6 324.0,805.6 325.0,805.6C326.0,805.6 327.2,805.1 328.3,804.8C329.4,804.4 330.6,803.9 331.5,803.5C332.4,803.1 332.8,803.0 333.6,802.3C334.4,801.5 335.4,799.2 336.4,799.0C337.3,798.8 338.4,800.1 339.3,801.1C340.2,802.1 341.1,803.9 342.1,804.8C343.1,805.7 344.2,806.5 345.4,806.4C346.6,806.3 347.9,804.3 349.5,804.3C351.1,804.3 353.3,806.6 355.2,806.4C357.1,806.2 359.3,803.5 360.9,803.1C362.5,802.8 363.9,804.4 365.0,804.3C366.1,804.2 366.3,802.1 367.8,802.3C369.3,802.4 371.5,804.6 373.9,805.2C376.3,805.8 379.4,805.8 382.1,806.0C384.8,806.2 387.6,806.4 390.3,806.4C393.0,806.4 396.2,806.5 398.4,806.0C400.6,805.5 401.4,803.2 403.3,803.1C405.2,803.0 407.6,805.0 409.8,805.6C412.0,806.2 414.6,806.9 416.4,806.8C418.2,806.7 419.0,805.3 420.4,805.2C421.8,805.1 423.4,806.2 425.0,806.4C426.6,806.6 428.8,806.5 430.0,806.5C431.2,806.6 431.3,806.6 432.0,806.6C432.7,806.6 433.3,806.6 434.0,806.6C434.7,806.6 435.3,806.6 436.0,806.7C436.7,806.7 437.3,806.7 438.0,806.7C438.7,806.7 439.3,806.7 440.0,806.7C440.7,806.7 441.3,806.7 442.0,806.8C442.7,806.8 443.3,806.8 444.0,806.8C444.7,806.8 445.3,806.8 446.0,806.8C446.7,806.8 447.3,806.8 448.0,806.7C448.7,806.7 449.3,806.6 450.0,806.6C450.7,806.6 451.3,806.7 452.0,806.7C452.7,806.7 453.3,806.8 454.0,806.8C454.7,806.8 455.3,806.7 456.0,806.7C456.7,806.6 457.3,806.4 458.0,806.3C458.7,806.2 459.3,806.0 460.0,805.9C460.7,805.9 461.3,806.1 462.0,806.1C462.7,806.1 463.3,806.4 464.0,806.0C464.7,805.7 465.3,805.0 466.0,804.1C466.7,803.2 467.3,800.9 468.0,800.8C468.7,800.6 469.3,802.3 470.0,803.2C470.7,804.1 471.3,805.6 472.0,806.1C472.7,806.5 473.3,806.0 474.0,805.9C474.7,805.7 475.3,805.1 476.0,805.1C476.7,805.1 477.3,805.7 478.0,806.0C478.7,806.2 479.3,806.6 480.0,806.7C480.7,806.8 481.3,806.6 482.0,806.5C482.7,806.4 483.3,806.3 484.0,806.2C484.7,806.1 485.3,806.1 486.0,806.1C486.7,806.1 487.3,806.2 488.0,806.2C488.7,806.3 489.3,806.4 490.0,806.4C490.7,806.4 491.3,806.3 492.0,806.3C492.7,806.3 493.3,806.2 494.0,806.2C494.7,806.2 495.3,806.2 496.0,806.2C496.7,806.3 497.3,806.3 498.0,806.4C498.7,806.4 499.3,806.4 500.0,806.5C500.7,806.5 501.3,806.5 502.0,806.5C502.7,806.5 503.3,806.5 504.0,806.5C504.7,806.5 505.3,806.4 506.0,806.4C506.7,806.3 507.3,806.3 508.0,806.2C508.7,806.1 509.3,806.1 510.0,805.9C510.7,805.7 511.3,805.5 512.0,805.0C512.7,804.5 513.3,803.2 514.0,803.0C514.7,802.8 515.3,803.4 516.0,803.8C516.7,804.1 517.3,805.1 518.0,805.0C518.7,805.0 519.3,803.6 520.0,803.4C520.7,803.2 521.3,803.3 522.0,803.7C522.7,804.1 523.3,805.5 524.0,806.0C524.7,806.5 525.3,806.7 526.0,806.8C526.7,806.9 527.3,806.8 528.0,806.8C528.7,806.7 529.3,806.8 530.0,806.7C530.7,806.7 531.3,806.5 532.0,806.5C532.7,806.4 533.3,806.3 534.0,806.2C534.7,806.2 535.3,806.2 536.0,806.2C536.7,806.3 537.3,806.4 538.0,806.5C538.7,806.6 539.3,806.7 540.0,806.7C540.7,806.7 541.3,806.6 542.0,806.5C542.7,806.4 543.3,806.3 544.0,806.2C544.7,806.2 545.3,806.2 546.0,806.2C546.7,806.2 547.3,806.3 548.0,806.4C548.7,806.4 549.3,806.6 550.0,806.6C550.7,806.6 551.3,806.4 552.0,806.4C552.7,806.3 553.3,806.2 554.0,806.2C554.7,806.1 555.3,806.1 556.0,806.0C556.7,806.0 557.3,806.0 558.0,806.0C558.7,806.0 559.3,805.9 560.0,805.9C560.7,806.0 561.3,806.2 562.0,806.3C562.7,806.4 563.3,806.6 564.0,806.6C564.7,806.7 565.3,806.7 566.0,806.7C566.7,806.7 567.3,806.5 568.0,806.4C568.7,806.3 569.3,806.2 570.0,806.2C570.7,806.1 571.3,806.2 572.0,806.2C572.7,806.2 573.3,806.1 574.0,806.2C574.7,806.2 575.3,806.2 576.0,806.3C576.7,806.4 577.3,806.5 578.0,806.6C578.7,806.7 579.3,806.9 580.0,806.9C580.7,807.0 581.3,806.9 582.0,806.9C582.7,806.9 583.3,806.9 584.0,806.9C584.7,806.8 585.3,806.8 586.0,806.7C586.7,806.7 587.3,806.6 588.0,806.5C588.7,806.4 589.3,806.2 590.0,806.2C590.7,806.3 591.3,806.4 592.0,806.5C592.7,806.6 593.3,806.7 594.0,806.8C594.7,806.8 595.3,806.9 596.0,806.8C596.7,806.8 597.3,806.7 598.0,806.7C598.7,806.6 599.3,806.5 600.0,806.5C600.7,806.5 601.3,806.5 602.0,806.6C602.7,806.6 603.3,806.6 604.0,806.6C604.7,806.6 605.3,806.6 606.0,806.5C606.7,806.5 607.3,806.4 608.0,806.4C608.7,806.3 609.3,806.2 610.0,806.2C610.7,806.2 611.3,806.4 612.0,806.5C612.7,806.6 613.3,806.7 614.0,806.8C614.7,806.8 615.3,806.9 616.0,806.9C616.7,806.9 617.3,806.8 618.0,806.8C618.7,806.7 619.3,806.7 620.0,806.7C620.7,806.7 621.3,806.7 622.0,806.8C622.7,806.8 623.3,806.9 624.0,806.9C624.7,806.9 625.3,806.9 626.0,806.9C626.7,806.9 627.3,807.0 628.0,806.9C628.7,806.7 629.3,806.8 630.0,806.0C630.7,805.2 631.3,802.9 632.0,801.9C632.7,801.0 633.3,799.8 634.0,800.2C634.7,800.6 635.3,803.2 636.0,804.2C636.7,805.2 637.3,805.8 638.0,806.1C638.7,806.5 639.3,806.3 640.0,806.3C640.7,806.4 641.3,806.3 642.0,806.3C642.7,806.2 643.3,806.2 644.0,806.2C644.7,806.2 645.3,806.2 646.0,806.1C646.7,806.1 647.3,806.1 648.0,806.1C648.7,806.1 649.3,806.1 650.0,806.1C650.7,806.1 651.3,806.1 652.0,806.1C652.7,806.1 653.3,806.1 654.0,806.1C654.7,806.1 655.3,806.1 656.0,806.1C656.7,806.1 657.3,806.2 658.0,806.2C658.7,806.2 659.3,806.3 660.0,806.3C660.7,806.3 661.3,806.4 662.0,806.4C662.7,806.4 663.3,806.5 664.0,806.5C664.7,806.5 665.3,806.5 666.0,806.5C666.7,806.4 667.3,806.3 668.0,806.2C668.7,806.2 669.3,806.0 670.0,806.0C670.7,806.0 671.3,806.2 672.0,806.2C672.7,806.2 673.3,806.2 674.0,806.1C674.7,806.0 675.3,805.7 676.0,805.6C676.7,805.5 677.3,805.6 678.0,805.5C678.7,805.5 679.3,805.3 680.0,805.3C680.7,805.3 681.3,805.5 682.0,805.7C682.7,805.8 683.3,806.1 684.0,806.2C684.7,806.3 685.3,806.3 686.0,806.4C686.7,806.5 687.3,806.5 688.0,806.6C688.7,806.7 689.3,806.8 690.0,806.8C690.7,806.8 691.3,806.7 692.0,806.7C692.7,806.6 693.3,806.6 694.0,806.5C694.7,806.5 695.3,806.5 696.0,806.4C696.7,806.4 697.3,806.4 698.0,806.4C698.7,806.4 699.3,806.3 700.0,806.3C700.7,806.3 701.3,806.4 702.0,806.4C702.7,806.4 703.3,806.4 704.0,806.4C704.7,806.5 705.3,806.5 706.0,806.5C706.7,806.6 707.3,806.6 708.0,806.6C708.7,806.6 709.3,806.7 710.0,806.7C710.7,806.7 711.3,806.5 712.0,806.4C712.7,806.4 713.3,806.2 714.0,806.2C714.7,806.2 715.3,806.2 716.0,806.2C716.7,806.3 717.3,806.5 718.0,806.6C718.7,806.7 719.3,807.0 720.0,807.0C720.7,807.0 721.3,806.7 722.0,806.6C722.7,806.5 723.3,806.3 724.0,806.2C724.7,806.1 725.3,806.1 726.0,806.2C726.7,806.2 727.3,806.4 728.0,806.5C728.7,806.6 729.3,806.7 730.0,806.7C730.7,806.8 731.3,806.8 732.0,806.8C732.7,806.8 733.3,806.8 734.0,806.8C734.7,806.8 735.3,806.8 736.0,806.7C736.7,806.6 737.3,806.5 738.0,806.3C738.7,806.2 739.3,806.0 740.0,806.0C740.7,806.0 741.3,806.2 742.0,806.3C742.7,806.4 743.3,806.6 744.0,806.6C744.7,806.7 745.3,806.7 746.0,806.7C746.7,806.7 747.3,806.6 748.0,806.5C748.7,806.5 749.3,806.4 750.0,806.4C750.7,806.4 751.3,806.4 752.0,806.5C752.7,806.5 753.3,806.5 754.0,806.5C754.7,806.5 755.3,806.5 756.0,806.5C756.7,806.4 757.3,806.3 758.0,806.2C758.7,806.2 759.3,806.1 760.0,806.0C760.7,806.0 761.3,806.0 762.0,806.0C762.7,805.9 763.3,805.7 764.0,805.5C764.7,805.4 765.3,805.1 766.0,805.1C766.7,805.1 767.3,805.5 768.0,805.6C768.7,805.8 769.3,806.0 770.0,806.1C770.7,806.3 771.3,806.4 772.0,806.5C772.7,806.6 773.3,806.7 774.0,806.8C774.7,806.9 775.3,806.9 776.0,806.8C776.7,806.8 777.3,806.6 778.0,806.5C778.7,806.4 779.3,806.2 780.0,806.2C780.7,806.2 781.3,806.3 782.0,806.4C782.7,806.5 783.3,806.6 784.0,806.6C784.7,806.7 785.3,806.8 786.0,806.8C786.7,806.8 787.3,806.8 788.0,806.9C788.7,806.9 789.3,806.9 790.0,806.9C790.7,806.9 791.3,806.9 792.0,806.9C792.7,806.9 793.3,807.0 794.0,806.9C794.7,806.9 795.3,806.9 796.0,806.8C796.7,806.8 797.3,806.7 798.0,806.6C798.7,806.5 799.3,806.4 800.0,806.3C800.7,806.3 801.3,806.3 802.0,806.3C802.7,806.3 803.3,806.3 804.0,806.4C804.7,806.4 805.3,806.4 806.0,806.4C806.7,806.4 807.3,806.4 808.0,806.5C808.7,806.5 809.3,806.5 810.0,806.5C810.7,806.6 811.3,806.6 812.0,806.6C812.7,806.7 813.3,806.7 814.0,806.7C814.7,806.7 815.3,806.7 816.0,806.6C816.7,806.6 817.3,806.5 818.0,806.4C818.7,806.3 819.3,806.1 820.0,806.1C820.7,806.1 821.3,806.3 822.0,806.4C822.7,806.4 823.3,806.6 824.0,806.6C824.7,806.7 825.3,806.7 826.0,806.8C826.7,806.8 827.3,806.8 828.0,806.8C828.7,806.8 829.3,806.8 830.0,806.8C830.7,806.8 831.3,806.8 832.0,806.8C832.7,806.8 833.3,806.9 834.0,806.8C834.7,806.8 835.3,806.8 836.0,806.7C836.7,806.6 837.3,806.5 838.0,806.4C838.7,806.3 839.3,806.0 840.0,806.0C840.7,806.0 841.3,806.3 842.0,806.4C842.7,806.5 843.3,806.7 844.0,806.8C844.7,806.8 845.3,806.8 846.0,806.8C846.7,806.7 847.3,806.5 848.0,806.4C848.7,806.4 849.3,806.3 850.0,806.3C850.7,806.3 851.3,806.3 852.0,806.3C852.7,806.4 853.3,806.4 854.0,806.4C854.7,806.4 855.3,806.4 856.0,806.4C856.7,806.5 857.3,806.5 858.0,806.5C858.7,806.5 859.3,806.5 860.0,806.6C860.7,806.6 861.3,806.6 862.0,806.6C862.7,806.6 863.3,806.7 864.0,806.7C864.7,806.7 865.3,806.7 866.0,806.7C866.7,806.6 867.3,806.6 868.0,806.5C868.7,806.5 869.3,806.4 870.0,806.4C870.7,806.4 871.3,806.5 872.0,806.5C872.7,806.6 873.3,806.6 874.0,806.7C874.7,806.7 875.3,806.7 876.0,806.7C876.7,806.7 877.3,806.6 878.0,806.6C878.7,806.6 879.3,806.5 880.0,806.5C880.7,806.5 881.3,806.5 882.0,806.5C882.7,806.5 883.3,806.4 884.0,806.4C884.7,806.4 885.3,806.4 886.0,806.4C886.7,806.4 887.3,806.4 888.0,806.4C888.7,806.4 889.3,806.4 890.0,806.4C890.7,806.4 891.3,806.4 892.0,806.4C892.7,806.4 893.3,806.4 894.0,806.4C894.7,806.3 895.3,806.3 896.0,806.3C896.7,806.3 897.3,806.3 898.0,806.3C898.7,806.3 899.3,806.3 900.0,806.3C900.7,806.3 901.3,806.3 902.0,806.3C902.7,806.3 903.3,806.2 904.0,806.2C904.7,806.3 905.3,806.3 906.0,806.3C906.7,806.3 907.3,806.3 908.0,806.4C908.7,806.4 909.3,806.4 910.0,806.4C910.7,806.4 911.3,806.4 912.0,806.5C912.7,806.5 913.3,806.5 914.0,806.5C914.7,806.5 915.3,806.4 916.0,806.4C916.7,806.3 917.3,806.3 918.0,806.2C918.7,806.1 919.3,806.0 920.0,806.0C920.7,805.9 921.3,806.0 922.0,805.9C922.7,805.9 923.3,805.9 924.0,805.9C924.7,805.9 925.3,805.9 926.0,805.9C926.7,806.0 927.3,806.0 928.0,806.1C928.7,806.1 929.3,806.2 930.0,806.2C930.7,806.2 931.3,806.2 932.0,806.1C932.7,806.1 933.3,806.0 934.0,806.0C934.7,805.9 935.3,805.9 936.0,805.9C936.7,805.9 937.3,805.9 938.0,805.8C938.7,805.8 939.3,805.8 940.0,805.8C940.7,805.8 941.3,805.7 942.0,805.7C942.7,805.7 943.3,805.7 944.0,805.6C944.7,805.6 945.3,805.6 946.0,805.6C946.7,805.6 947.3,805.6 948.0,805.7C948.7,805.7 949.3,805.7 950.0,805.7C950.7,805.7 951.3,805.7 952.0,805.7C952.7,805.7 953.3,805.7 954.0,805.7C954.7,805.7 955.3,805.7 956.0,805.7C956.7,805.6 957.3,805.6 958.0,805.6C958.7,805.5 959.3,805.5 960.0,805.5C960.7,805.4 961.3,805.4 962.0,805.4C962.7,805.4 963.3,805.4 964.0,805.4C964.7,805.4 965.3,805.3 966.0,805.3C966.7,805.3 967.3,805.2 968.0,805.2C968.7,805.2 969.3,805.1 970.0,805.1C970.7,805.1 971.3,805.2 972.0,805.2C972.7,805.3 973.3,805.3 974.0,805.4C974.7,805.4 975.3,805.4 976.0,805.3C976.7,805.3 977.3,805.2 978.0,805.1C978.7,805.0 979.3,804.9 980.0,804.9C980.7,804.9 981.3,804.9 982.0,805.0C982.7,805.0 983.3,805.0 984.0,805.0C984.7,805.0 985.3,805.1 986.0,805.1C986.7,805.1 987.3,805.1 988.0,805.1C988.7,805.1 989.3,805.2 990.0,805.1C990.7,805.1 991.3,805.0 992.0,805.0C992.7,804.9 993.3,804.8 994.0,804.8C994.7,804.8 995.3,804.7 996.0,804.7C996.7,804.8 997.3,804.8 998.0,804.8C998.7,804.9 999.3,804.9 1000.0,804.9C1000.7,804.9 1001.3,804.9 1002.0,804.9C1002.7,804.9 1003.3,804.9 1004.0,804.9C1004.7,804.9 1005.3,804.9 1006.0,804.9C1006.7,804.9 1007.3,804.8 1008.0,804.8C1008.7,804.8 1009.3,804.7 1010.0,804.7C1010.7,804.7 1011.3,804.7 1012.0,804.7C1012.7,804.7 1013.3,804.7 1014.0,804.7C1014.7,804.7 1015.3,804.6 1016.0,804.6C1016.7,804.6 1017.3,804.5 1018.0,804.4C1018.7,804.4 1019.3,804.3 1020.0,804.3C1020.7,804.2 1021.3,804.3 1022.0,804.3C1022.7,804.3 1023.3,804.3 1024.0,804.3C1024.7,804.3 1025.3,804.3 1026.0,804.3C1026.7,804.3 1027.3,804.2 1028.0,804.2C1028.7,804.2 1029.3,804.1 1030.0,804.1C1030.7,804.1 1031.3,804.2 1032.0,804.2C1032.7,804.3 1033.3,804.3 1034.0,804.3C1034.7,804.3 1035.3,804.3 1036.0,804.3C1036.7,804.3 1037.3,804.2 1038.0,804.2C1038.7,804.1 1039.3,804.0 1040.0,804.0C1040.7,804.0 1041.3,804.0 1042.0,804.0C1042.7,804.0 1043.3,804.0 1044.0,804.0C1044.7,804.0 1045.3,804.0 1046.0,804.0C1046.7,804.1 1047.3,804.1 1048.0,804.1C1048.7,804.1 1049.3,804.2 1050.0,804.2C1050.7,804.2 1051.3,804.2 1052.0,804.1C1052.7,804.1 1053.3,804.1 1054.0,804.1C1054.7,804.1 1055.3,804.0 1056.0,804.0C1056.7,804.0 1057.3,804.0 1058.0,804.0C1058.7,804.0 1059.3,804.0 1060.0,804.0C1060.7,804.0 1061.3,803.9 1062.0,803.9C1062.7,803.8 1063.3,803.8 1064.0,803.7C1064.7,803.7 1065.3,803.7 1066.0,803.7C1066.7,803.6 1067.3,803.6 1068.0,803.6C1068.7,803.6 1069.3,803.6 1070.0,803.6C1070.7,803.6 1071.3,803.6 1072.0,803.6C1072.7,803.6 1073.3,803.6 1074.0,803.6C1074.7,803.6 1075.3,803.6 1076.0,803.6C1076.7,803.6 1077.3,803.5 1078.0,803.5C1078.7,803.5 1079.3,803.5 1080.0,803.4C1080.7,803.4 1081.3,803.4 1082.0,803.4C1082.7,803.3 1083.3,803.3 1084.0,803.3C1084.7,803.3 1085.3,803.3 1086.0,803.2C1086.7,803.2 1087.3,803.2 1088.0,803.2C1088.7,803.2 1089.3,803.2 1090.0,803.2C1090.7,803.2 1091.3,803.2 1092.0,803.1C1092.7,803.1 1093.3,803.1 1094.0,803.1C1094.7,803.0 1095.3,803.0 1096.0,803.0C1096.7,803.0 1097.3,803.0 1098.0,803.0C1098.7,803.0 1099.3,803.0 1100.0,803.0C1100.7,803.1 1101.3,803.1 1102.0,803.1C1102.7,803.2 1103.3,803.2 1104.0,803.2C1104.7,803.2 1105.3,803.2 1106.0,803.2C1106.7,803.2 1107.3,803.2 1108.0,803.2C1108.7,803.2 1109.3,803.2 1110.0,803.2C1110.7,803.1 1111.3,803.0 1112.0,802.8C1112.7,802.6 1113.3,802.1 1114.0,802.0C1114.7,801.8 1115.3,801.8 1116.0,801.9C1116.7,802.0 1117.3,802.4 1118.0,802.6C1118.7,802.7 1119.3,802.7 1120.0,802.8C1120.7,802.8 1121.3,802.7 1122.0,802.7C1122.7,802.7 1123.3,802.7 1124.0,802.7C1124.7,802.6 1125.3,802.6 1126.0,802.6C1126.7,802.6 1127.3,802.5 1128.0,802.5C1128.7,802.5 1129.3,802.4 1130.0,802.4C1130.7,802.4 1131.3,802.4 1132.0,802.4C1132.7,802.4 1133.3,802.4 1134.0,802.4C1134.7,802.4 1135.3,802.4 1136.0,802.5C1136.7,802.5 1137.3,802.5 1138.0,802.5C1138.7,802.6 1139.3,802.6 1140.0,802.6C1140.7,802.6 1141.3,802.6 1142.0,802.6C1142.7,802.6 1143.3,802.6 1144.0,802.6C1144.7,802.6 1145.3,802.5 1146.0,802.5C1146.7,802.5 1147.3,802.4 1148.0,802.4C1148.7,802.3 1149.3,802.2 1150.0,802.2C1150.7,802.2 1151.3,802.3 1152.0,802.3C1152.7,802.4 1153.3,802.4 1154.0,802.4C1154.7,802.5 1155.3,802.5 1156.0,802.5C1156.7,802.5 1157.3,802.5 1158.0,802.5C1158.7,802.5 1159.3,802.5 1160.0,802.5C1160.7,802.5 1161.3,802.5 1162.0,802.5C1162.7,802.5 1163.3,802.5 1164.0,802.5C1164.7,802.5 1165.3,802.5 1166.0,802.5C1166.7,802.5 1167.3,802.5 1168.0,802.5C1168.7,802.5 1169.3,802.5 1170.0,802.5C1170.7,802.6 1171.3,802.6 1172.0,802.6C1172.7,802.6 1173.3,802.6 1174.0,802.6C1174.7,802.6 1175.3,802.6 1176.0,802.6C1176.7,802.6 1177.3,802.6 1178.0,802.5C1178.7,802.5 1179.3,802.5 1180.0,802.5C1180.7,802.5 1181.3,802.5 1182.0,802.6C1182.7,802.6 1183.3,802.6 1184.0,802.6C1184.7,802.7 1185.6,802.7 1186.0,802.7C1186.4,802.6 1186.4,802.6 1186.5,802.6"/>
<path fill="none" stroke="#111111" stroke-width="2.45" stroke-linejoin="round" stroke-linecap="round" d="M34.9,1017.5C36.7,1017.8 42.9,1019.3 45.5,1019.3C48.1,1019.2 48.6,1017.7 50.4,1017.2C52.2,1016.7 53.8,1016.6 56.1,1016.2C58.4,1015.8 61.8,1014.7 64.3,1014.8C66.8,1014.9 68.4,1016.0 70.8,1016.8C73.2,1017.6 76.2,1019.0 78.9,1019.7C81.6,1020.4 83.0,1020.8 87.1,1020.9C91.2,1021.0 99.3,1020.8 103.4,1020.6C107.5,1020.4 108.9,1020.0 111.6,1019.7C114.3,1019.5 116.7,1018.9 119.7,1019.1C122.7,1019.3 127.2,1020.6 129.5,1020.9C131.8,1021.2 131.5,1021.2 133.3,1020.9C135.2,1020.5 138.3,1019.2 140.6,1018.8C142.9,1018.4 144.9,1018.9 147.1,1018.4C149.3,1017.9 151.6,1016.1 153.7,1016.0C155.8,1015.9 157.2,1017.1 159.4,1017.6C161.6,1018.1 164.1,1018.6 166.7,1018.8C169.3,1019.0 172.2,1018.6 174.9,1018.8C177.6,1018.9 180.7,1019.7 183.0,1019.7C185.3,1019.7 186.0,1018.7 188.7,1018.8C191.4,1018.9 195.8,1019.9 199.3,1020.2C202.8,1020.6 207.0,1021.1 209.9,1020.9C212.8,1020.7 213.2,1019.0 216.5,1018.8C219.8,1018.6 226.4,1020.0 229.5,1019.7C232.6,1019.4 232.9,1017.0 235.3,1016.9C237.7,1016.8 241.8,1019.0 243.9,1018.9C246.0,1018.8 246.3,1018.0 247.9,1016.5C249.5,1015.0 251.6,1010.5 253.7,1010.0C255.8,1009.5 258.2,1012.3 260.2,1013.6C262.2,1014.9 264.1,1017.2 265.9,1017.7C267.7,1018.2 269.0,1016.3 270.8,1016.5C272.6,1016.7 274.4,1019.6 276.9,1018.9C279.3,1018.1 283.0,1012.1 285.5,1012.0C288.0,1011.9 290.1,1017.8 292.0,1018.1C293.9,1018.4 295.0,1014.0 296.9,1014.0C298.8,1014.0 301.4,1017.6 303.4,1018.1C305.4,1018.6 307.4,1018.0 309.1,1017.3C310.8,1016.6 312.0,1013.9 313.6,1014.0C315.2,1014.1 316.9,1016.9 318.9,1017.7C320.9,1018.5 323.9,1019.6 325.4,1018.9C326.9,1018.1 327.2,1015.4 327.9,1013.2C328.6,1011.1 329.0,1008.4 329.8,1006.0C330.6,1003.6 332.2,1002.9 332.9,998.6C333.6,994.3 333.5,987.5 333.8,980.0C334.1,972.5 334.3,963.9 334.6,953.6C334.9,943.3 335.2,929.3 335.5,918.0C335.8,906.7 336.0,895.3 336.3,885.8C336.6,876.3 336.9,862.0 337.1,861.0C337.4,860.0 337.6,874.5 337.8,880.0C338.0,885.5 338.2,886.8 338.5,894.3C338.8,901.8 339.2,915.1 339.5,925.0C339.8,934.9 340.1,944.8 340.5,953.6C340.9,962.4 341.4,970.9 341.8,978.0C342.2,985.1 342.7,991.3 343.1,996.0C343.5,1000.7 343.7,1003.2 344.1,1006.0C344.5,1008.8 345.1,1011.3 345.6,1013.0C346.1,1014.7 346.1,1015.1 347.0,1016.0C347.9,1016.9 348.7,1017.7 350.7,1018.4C352.7,1019.1 355.1,1020.1 358.8,1020.3C362.5,1020.5 369.6,1019.5 372.6,1019.5C375.6,1019.5 375.5,1020.4 376.7,1020.3C377.9,1020.2 378.0,1018.9 380.0,1019.0C382.0,1019.1 386.6,1020.7 388.9,1020.7C391.2,1020.7 391.6,1019.0 393.8,1019.0C396.0,1019.0 400.2,1021.2 402.0,1020.7C403.8,1020.2 403.6,1017.6 404.4,1015.8C405.2,1014.0 405.9,1009.9 406.9,1010.1C407.8,1010.3 409.0,1015.5 410.1,1017.0C411.2,1018.5 412.3,1018.4 413.4,1019.0C414.5,1019.6 415.3,1020.7 416.7,1020.7C418.1,1020.7 420.0,1019.1 421.6,1019.0C423.2,1018.9 424.6,1020.4 426.5,1020.3C428.4,1020.2 430.8,1018.6 433.0,1018.6C435.2,1018.6 438.1,1020.0 439.8,1020.4C441.5,1020.8 441.9,1021.3 443.0,1020.9C444.1,1020.5 445.2,1018.0 446.3,1017.9C447.4,1017.8 448.4,1020.2 449.6,1020.4C450.8,1020.5 452.4,1018.7 453.7,1018.8C455.0,1018.9 456.3,1021.2 457.7,1020.9C459.1,1020.6 460.4,1016.8 461.8,1016.8C463.2,1016.8 464.1,1020.4 465.9,1020.9C467.7,1021.4 470.2,1019.8 472.4,1019.9C474.6,1020.0 477.3,1021.1 478.9,1021.2C480.5,1021.3 479.5,1020.4 482.2,1020.4C484.9,1020.4 491.4,1021.3 495.3,1021.2C499.2,1021.1 503.2,1019.6 505.9,1019.6C508.6,1019.6 507.4,1021.1 511.6,1021.2C515.8,1021.3 527.0,1020.1 531.1,1020.1C535.2,1020.1 533.3,1021.4 536.0,1021.5C538.7,1021.6 544.8,1021.4 547.5,1020.9C550.2,1020.4 550.4,1018.8 552.3,1018.8C554.2,1018.8 557.4,1020.9 558.9,1020.9C560.4,1020.9 560.3,1019.5 561.0,1018.5C561.7,1017.5 562.3,1015.0 563.0,1015.0C563.7,1015.0 564.3,1017.5 565.0,1018.5C565.7,1019.5 562.3,1020.4 567.0,1020.9C571.7,1021.4 586.4,1021.3 593.1,1021.2C599.8,1021.1 604.0,1020.1 607.0,1020.1C610.0,1020.1 607.3,1021.4 611.1,1021.5C614.9,1021.6 625.9,1020.9 630.0,1020.9C634.1,1020.9 634.7,1021.6 636.0,1021.7C637.3,1021.8 637.3,1021.7 638.0,1021.7C638.7,1021.7 639.3,1021.7 640.0,1021.7C640.7,1021.7 641.3,1021.7 642.0,1021.7C642.7,1021.6 643.3,1021.6 644.0,1021.5C644.7,1021.5 645.3,1021.4 646.0,1021.4C646.7,1021.4 647.3,1021.3 648.0,1021.3C648.7,1021.3 649.3,1021.3 650.0,1021.2C650.7,1021.2 651.3,1021.2 652.0,1021.1C652.7,1021.1 653.3,1021.1 654.0,1021.0C654.7,1021.0 655.3,1020.9 656.0,1020.9C656.7,1021.0 657.3,1021.1 658.0,1021.2C658.7,1021.3 659.3,1021.4 660.0,1021.5C660.7,1021.5 661.3,1021.6 662.0,1021.6C662.7,1021.6 663.3,1021.5 664.0,1021.5C664.7,1021.5 665.3,1021.4 666.0,1021.4C666.7,1021.4 667.3,1021.5 668.0,1021.5C668.7,1021.6 669.3,1021.7 670.0,1021.7C670.7,1021.7 671.3,1021.7 672.0,1021.6C672.7,1021.5 673.3,1021.2 674.0,1020.9C674.7,1020.6 675.3,1019.8 676.0,1019.7C676.7,1019.6 677.3,1020.1 678.0,1020.4C678.7,1020.7 679.3,1021.3 680.0,1021.5C680.7,1021.7 681.3,1021.6 682.0,1021.6C682.7,1021.6 683.3,1021.5 684.0,1021.5C684.7,1021.4 685.3,1021.3 686.0,1021.3C686.7,1021.3 687.3,1021.4 688.0,1021.5C688.7,1021.6 689.3,1021.6 690.0,1021.7C690.7,1021.8 691.3,1021.8 692.0,1021.8C692.7,1021.8 693.3,1021.8 694.0,1021.8C694.7,1021.8 695.3,1021.8 696.0,1021.7C696.7,1021.7 697.3,1021.7 698.0,1021.6C698.7,1021.6 699.3,1021.5 700.0,1021.5C700.7,1021.5 701.3,1021.5 702.0,1021.5C702.7,1021.5 703.3,1021.5 704.0,1021.5C704.7,1021.5 705.3,1021.6 706.0,1021.6C706.7,1021.6 707.3,1021.6 708.0,1021.6C708.7,1021.7 709.3,1021.7 710.0,1021.7C710.7,1021.7 711.3,1021.7 712.0,1021.6C712.7,1021.6 713.3,1021.5 714.0,1021.4C714.7,1021.4 715.3,1021.3 716.0,1021.2C716.7,1021.2 717.3,1021.4 718.0,1021.4C718.7,1021.4 719.3,1021.4 720.0,1021.1C720.7,1020.9 721.3,1020.2 722.0,1020.1C722.7,1019.9 723.3,1019.9 724.0,1020.2C724.7,1020.4 725.3,1021.2 726.0,1021.5C726.7,1021.7 727.3,1021.6 728.0,1021.6C728.7,1021.6 729.3,1021.5 730.0,1021.5C730.7,1021.4 731.3,1021.4 732.0,1021.5C732.7,1021.5 733.3,1021.6 734.0,1021.7C734.7,1021.7 735.3,1021.9 736.0,1021.9C736.7,1021.9 737.3,1021.8 738.0,1021.6C738.7,1021.3 739.3,1020.8 740.0,1020.6C740.7,1020.5 741.3,1020.5 742.0,1020.6C742.7,1020.8 743.3,1021.4 744.0,1021.6C744.7,1021.8 745.3,1021.9 746.0,1021.9C746.7,1022.0 747.3,1021.8 748.0,1021.8C748.7,1021.7 749.3,1021.7 750.0,1021.5C750.7,1021.4 751.3,1021.3 752.0,1021.0C752.7,1020.7 753.3,1020.0 754.0,1019.8C754.7,1019.6 755.3,1019.7 756.0,1019.9C756.7,1020.1 757.3,1020.9 758.0,1021.2C758.7,1021.5 759.3,1021.7 760.0,1021.8C760.7,1021.9 761.3,1022.0 762.0,1021.9C762.7,1021.8 763.3,1021.7 764.0,1021.2C764.7,1020.7 765.3,1019.3 766.0,1018.8C766.7,1018.4 767.3,1018.4 768.0,1018.7C768.7,1019.0 769.3,1020.3 770.0,1020.6C770.7,1020.8 771.3,1020.4 772.0,1020.4C772.7,1020.4 773.3,1020.4 774.0,1020.5C774.7,1020.6 775.3,1021.0 776.0,1021.1C776.7,1021.1 777.3,1021.3 778.0,1020.9C778.7,1020.6 779.3,1019.6 780.0,1019.1C780.7,1018.6 781.3,1017.6 782.0,1017.8C782.7,1018.0 783.3,1019.5 784.0,1020.2C784.7,1020.8 785.3,1021.4 786.0,1021.7C786.7,1021.9 787.3,1021.7 788.0,1021.7C788.7,1021.7 789.3,1021.6 790.0,1021.6C790.7,1021.5 791.3,1021.6 792.0,1021.6C792.7,1021.7 793.3,1021.8 794.0,1021.9C794.7,1022.0 795.3,1022.1 796.0,1022.2C796.7,1022.2 797.3,1022.1 798.0,1022.0C798.7,1022.0 799.3,1021.9 800.0,1021.9C800.7,1021.8 801.3,1021.8 802.0,1021.7C802.7,1021.7 803.3,1021.6 804.0,1021.6C804.7,1021.5 805.3,1021.4 806.0,1021.4C806.7,1021.4 807.3,1021.5 808.0,1021.6C808.7,1021.7 809.3,1021.8 810.0,1021.8C810.7,1021.8 811.3,1021.8 812.0,1021.8C812.7,1021.8 813.3,1021.8 814.0,1021.7C814.7,1021.7 815.3,1021.6 816.0,1021.6C816.7,1021.6 817.3,1021.8 818.0,1021.8C818.7,1021.9 819.3,1022.0 820.0,1022.1C820.7,1022.1 821.3,1022.2 822.0,1022.2C822.7,1022.2 823.3,1022.2 824.0,1022.2C824.7,1022.2 825.3,1022.2 826.0,1022.2C826.7,1022.1 827.3,1022.1 828.0,1022.0C828.7,1022.0 829.3,1021.9 830.0,1021.9C830.7,1021.8 831.3,1021.8 832.0,1021.8C832.7,1021.8 833.3,1021.8 834.0,1021.9C834.7,1021.9 835.3,1021.9 836.0,1021.9C836.7,1021.9 837.3,1021.9 838.0,1021.9C838.7,1022.0 839.3,1022.0 840.0,1022.0C840.7,1022.0 841.3,1022.0 842.0,1022.0C842.7,1022.0 843.3,1022.0 844.0,1022.1C844.7,1022.1 845.3,1022.1 846.0,1022.1C846.7,1022.1 847.3,1022.2 848.0,1022.2C848.7,1022.2 849.3,1022.1 850.0,1022.0C850.7,1022.0 851.3,1022.0 852.0,1022.0C852.7,1021.9 853.3,1021.8 854.0,1021.8C854.7,1021.7 855.3,1021.6 856.0,1021.6C856.7,1021.6 857.3,1021.6 858.0,1021.7C858.7,1021.7 859.3,1021.7 860.0,1021.7C860.7,1021.7 861.3,1021.8 862.0,1021.8C862.7,1021.8 863.3,1021.8 864.0,1021.8C864.7,1021.9 865.3,1021.9 866.0,1021.9C866.7,1021.9 867.3,1021.8 868.0,1021.8C868.7,1021.8 869.3,1021.8 870.0,1021.8C870.7,1021.8 871.3,1021.8 872.0,1021.8C872.7,1021.8 873.3,1021.8 874.0,1021.8C874.7,1021.9 875.3,1021.9 876.0,1021.9C876.7,1021.9 877.3,1021.8 878.0,1021.8C878.7,1021.8 879.3,1021.7 880.0,1021.7C880.7,1021.7 881.3,1021.7 882.0,1021.7C882.7,1021.8 883.3,1021.8 884.0,1021.9C884.7,1022.0 885.3,1022.0 886.0,1022.1C886.7,1022.1 887.3,1022.0 888.0,1022.0C888.7,1022.0 889.3,1022.0 890.0,1021.9C890.7,1021.9 891.3,1021.9 892.0,1021.9C892.7,1021.8 893.3,1021.8 894.0,1021.8C894.7,1021.8 895.3,1021.7 896.0,1021.7C896.7,1021.7 897.3,1021.8 898.0,1021.8C898.7,1021.9 899.3,1021.9 900.0,1021.9C900.7,1021.9 901.3,1021.9 902.0,1021.9C902.7,1021.9 903.3,1021.9 904.0,1021.9C904.7,1021.8 905.3,1021.8 906.0,1021.8C906.7,1021.8 907.3,1021.8 908.0,1021.7C908.7,1021.7 909.3,1021.7 910.0,1021.7C910.7,1021.7 911.3,1021.7 912.0,1021.7C912.7,1021.7 913.3,1021.7 914.0,1021.8C914.7,1021.8 915.3,1021.8 916.0,1021.8C916.7,1021.8 917.3,1021.8 918.0,1021.7C918.7,1021.7 919.3,1021.7 920.0,1021.6C920.7,1021.6 921.3,1021.6 922.0,1021.6C922.7,1021.6 923.3,1021.6 924.0,1021.6C924.7,1021.6 925.3,1021.6 926.0,1021.6C926.7,1021.6 927.3,1021.7 928.0,1021.7C928.7,1021.8 929.3,1021.8 930.0,1021.9C930.7,1021.9 931.3,1021.9 932.0,1021.9C932.7,1021.9 933.3,1021.9 934.0,1021.8C934.7,1021.8 935.3,1021.8 936.0,1021.8C936.7,1021.8 937.3,1021.7 938.0,1021.7C938.7,1021.6 939.3,1021.5 940.0,1021.5C940.7,1021.5 941.3,1021.5 942.0,1021.5C942.7,1021.5 943.3,1021.6 944.0,1021.6C944.7,1021.7 945.3,1021.8 946.0,1021.8C946.7,1021.8 947.3,1021.7 948.0,1021.6C948.7,1021.6 949.3,1021.5 950.0,1021.5C950.7,1021.4 951.3,1021.4 952.0,1021.4C952.7,1021.4 953.3,1021.4 954.0,1021.5C954.7,1021.5 955.3,1021.5 956.0,1021.5C956.7,1021.5 957.3,1021.6 958.0,1021.6C958.7,1021.6 959.3,1021.7 960.0,1021.7C960.7,1021.7 961.3,1021.7 962.0,1021.7C962.7,1021.7 963.3,1021.7 964.0,1021.7C964.7,1021.6 965.3,1021.6 966.0,1021.6C966.7,1021.6 967.3,1021.5 968.0,1021.5C968.7,1021.5 969.3,1021.5 970.0,1021.4C970.7,1021.4 971.3,1021.4 972.0,1021.4C972.7,1021.4 973.3,1021.4 974.0,1021.4C974.7,1021.4 975.3,1021.4 976.0,1021.4C976.7,1021.4 977.3,1021.4 978.0,1021.4C978.7,1021.4 979.3,1021.4 980.0,1021.4C980.7,1021.4 981.3,1021.4 982.0,1021.4C982.7,1021.4 983.3,1021.3 984.0,1021.3C984.7,1021.3 985.3,1021.2 986.0,1021.2C986.7,1021.3 987.3,1021.3 988.0,1021.4C988.7,1021.5 989.3,1021.5 990.0,1021.6C990.7,1021.6 991.3,1021.6 992.0,1021.5C992.7,1021.5 993.3,1021.4 994.0,1021.3C994.7,1021.3 995.3,1021.2 996.0,1021.1C996.7,1021.1 997.3,1021.2 998.0,1021.2C998.7,1021.2 999.3,1021.3 1000.0,1021.3C1000.7,1021.3 1001.3,1021.3 1002.0,1021.3C1002.7,1021.4 1003.3,1021.4 1004.0,1021.4C1004.7,1021.4 1005.3,1021.4 1006.0,1021.4C1006.7,1021.4 1007.3,1021.4 1008.0,1021.4C1008.7,1021.3 1009.3,1021.3 1010.0,1021.3C1010.7,1021.3 1011.3,1021.3 1012.0,1021.3C1012.7,1021.3 1013.3,1021.4 1014.0,1021.4C1014.7,1021.4 1015.3,1021.5 1016.0,1021.5C1016.7,1021.5 1017.3,1021.4 1018.0,1021.3C1018.7,1021.3 1019.3,1021.2 1020.0,1021.2C1020.7,1021.2 1021.3,1021.2 1022.0,1021.2C1022.7,1021.2 1023.3,1021.3 1024.0,1021.3C1024.7,1021.4 1025.3,1021.4 1026.0,1021.4C1026.7,1021.5 1027.3,1021.4 1028.0,1021.4C1028.7,1021.4 1029.3,1021.4 1030.0,1021.4C1030.7,1021.4 1031.3,1021.4 1032.0,1021.3C1032.7,1021.3 1033.3,1021.3 1034.0,1021.3C1034.7,1021.3 1035.3,1021.2 1036.0,1021.2C1036.7,1021.2 1037.3,1021.3 1038.0,1021.3C1038.7,1021.3 1039.3,1021.3 1040.0,1021.3C1040.7,1021.3 1041.3,1021.3 1042.0,1021.3C1042.7,1021.2 1043.3,1021.2 1044.0,1021.2C1044.7,1021.1 1045.3,1021.1 1046.0,1021.1C1046.7,1021.1 1047.3,1021.1 1048.0,1021.1C1048.7,1021.2 1049.3,1021.2 1050.0,1021.2C1050.7,1021.2 1051.3,1021.2 1052.0,1021.2C1052.7,1021.2 1053.3,1021.2 1054.0,1021.2C1054.7,1021.2 1055.3,1021.2 1056.0,1021.2C1056.7,1021.2 1057.3,1021.1 1058.0,1021.1C1058.7,1021.1 1059.3,1021.1 1060.0,1021.1C1060.7,1021.0 1061.3,1021.0 1062.0,1021.0C1062.7,1021.0 1063.3,1021.0 1064.0,1021.0C1064.7,1021.0 1065.3,1021.0 1066.0,1021.0C1066.7,1021.0 1067.3,1021.0 1068.0,1021.0C1068.7,1021.0 1069.3,1021.0 1070.0,1021.0C1070.7,1021.0 1071.3,1021.0 1072.0,1021.0C1072.7,1021.0 1073.3,1021.0 1074.0,1021.0C1074.7,1020.9 1075.3,1020.9 1076.0,1020.9C1076.7,1020.9 1077.3,1020.8 1078.0,1020.8C1078.7,1020.8 1079.3,1020.7 1080.0,1020.7C1080.7,1020.7 1081.3,1020.7 1082.0,1020.8C1082.7,1020.8 1083.3,1020.8 1084.0,1020.9C1084.7,1020.9 1085.3,1021.0 1086.0,1021.0C1086.7,1021.0 1087.3,1020.9 1088.0,1020.9C1088.7,1020.9 1089.3,1020.8 1090.0,1020.8C1090.7,1020.8 1091.3,1020.7 1092.0,1020.7C1092.7,1020.7 1093.3,1020.8 1094.0,1020.8C1094.7,1020.8 1095.3,1020.8 1096.0,1020.8C1096.7,1020.8 1097.3,1020.8 1098.0,1020.9C1098.7,1020.9 1099.3,1020.9 1100.0,1020.9C1100.7,1020.9 1101.3,1020.9 1102.0,1020.9C1102.7,1020.8 1103.3,1020.8 1104.0,1020.7C1104.7,1020.7 1105.3,1020.6 1106.0,1020.6C1106.7,1020.6 1107.3,1020.6 1108.0,1020.6C1108.7,1020.6 1109.3,1020.6 1110.0,1020.5C1110.7,1020.5 1111.3,1020.6 1112.0,1020.4C1112.7,1020.3 1113.3,1020.1 1114.0,1019.8C1114.7,1019.6 1115.3,1019.1 1116.0,1019.2C1116.7,1019.2 1117.3,1019.7 1118.0,1019.9C1118.7,1020.2 1119.3,1020.5 1120.0,1020.6C1120.7,1020.8 1121.3,1020.7 1122.0,1020.7C1122.7,1020.8 1123.3,1020.7 1124.0,1020.7C1124.7,1020.7 1125.3,1020.7 1126.0,1020.6C1126.7,1020.6 1127.3,1020.6 1128.0,1020.6C1128.7,1020.6 1129.3,1020.6 1130.0,1020.6C1130.7,1020.6 1131.3,1020.6 1132.0,1020.6C1132.7,1020.6 1133.3,1020.6 1134.0,1020.6C1134.7,1020.6 1135.3,1020.7 1136.0,1020.6C1136.7,1020.6 1137.3,1020.7 1138.0,1020.5C1138.7,1020.4 1139.3,1020.0 1140.0,1019.8C1140.7,1019.7 1141.3,1019.4 1142.0,1019.5C1142.7,1019.6 1143.3,1020.1 1144.0,1020.2C1144.7,1020.4 1145.3,1020.4 1146.0,1020.5C1146.7,1020.5 1147.3,1020.5 1148.0,1020.5C1148.7,1020.6 1149.3,1020.6 1150.0,1020.6C1150.7,1020.6 1151.3,1020.6 1152.0,1020.6C1152.7,1020.6 1153.3,1020.7 1154.0,1020.7C1154.7,1020.7 1155.3,1020.8 1156.0,1020.8C1156.7,1020.8 1157.3,1020.8 1158.0,1020.7C1158.7,1020.7 1159.3,1020.7 1160.0,1020.7C1160.7,1020.7 1161.3,1020.6 1162.0,1020.6C1162.7,1020.6 1163.3,1020.6 1164.0,1020.5C1164.7,1020.5 1165.3,1020.5 1166.0,1020.5C1166.7,1020.4 1167.3,1020.5 1168.0,1020.5C1168.7,1020.5 1169.3,1020.5 1170.0,1020.5C1170.7,1020.5 1171.3,1020.5 1172.0,1020.5C1172.7,1020.5 1173.3,1020.5 1174.0,1020.5C1174.7,1020.5 1175.3,1020.5 1176.0,1020.5C1176.7,1020.5 1177.3,1020.5 1178.0,1020.5C1178.7,1020.4 1179.3,1020.4 1180.0,1020.4C1180.7,1020.4 1181.3,1020.4 1182.0,1020.4C1182.7,1020.4 1183.3,1020.4 1184.0,1020.4C1184.7,1020.4 1185.6,1020.4 1186.0,1020.4C1186.4,1020.5 1186.4,1020.5 1186.5,1020.5"/>
<rect x="23.5" y="26.3" width="1162.6" height="1022.3" fill="none" stroke="#000" stroke-width="2.4"/>
<path stroke="#000" stroke-width="2.2" fill="none" d="M23.9,1048.6 V1037.9 M88.5,1048.6 V1043.6 M153.0,1048.6 V1037.9 M217.6,1048.6 V1043.6 M282.2,1048.6 V1037.9 M346.7,1048.6 V1043.6 M411.3,1048.6 V1037.9 M475.9,1048.6 V1043.6 M540.5,1048.6 V1037.9 M605.0,1048.6 V1043.6 M669.6,1048.6 V1037.9 M734.2,1048.6 V1043.6 M798.7,1048.6 V1037.9 M863.3,1048.6 V1043.6 M927.9,1048.6 V1037.9 M992.4,1048.6 V1043.6 M1057.0,1048.6 V1037.9 M1121.6,1048.6 V1043.6 M1186.2,1048.6 V1037.9"/>
<text x="23.9" y="1078" text-anchor="middle" font-size="24.5">2</text>
<text x="153.0" y="1078" text-anchor="middle" font-size="24.5">3</text>
<text x="282.2" y="1078" text-anchor="middle" font-size="24.5">4</text>
<text x="411.3" y="1078" text-anchor="middle" font-size="24.5">5</text>
<text x="540.5" y="1078" text-anchor="middle" font-size="24.5">6</text>
<text x="669.6" y="1078" text-anchor="middle" font-size="24.5">7</text>
<text x="798.7" y="1078" text-anchor="middle" font-size="24.5">8</text>
<text x="927.9" y="1078" text-anchor="middle" font-size="24.5">9</text>
<text x="1057.0" y="1078" text-anchor="middle" font-size="24.5">10</text>
<text x="1186.2" y="1078" text-anchor="middle" font-size="24.5">11</text>
<text x="605" y="1124" text-anchor="middle" font-size="28.5">Time (min)</text>
</svg></body></html>
